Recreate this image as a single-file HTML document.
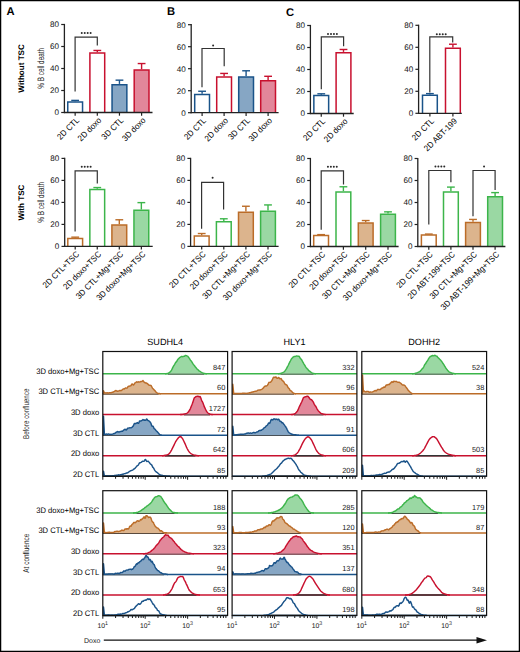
<!DOCTYPE html>
<html><head><meta charset="utf-8"><style>
html,body{margin:0;padding:0;background:#fff;width:520px;height:652px;overflow:hidden}
svg{display:block}
text{font-family:"Liberation Sans", sans-serif;text-rendering:geometricPrecision}
</style></head><body>
<svg width="520" height="652" viewBox="0 0 520 652" font-family='"Liberation Sans", sans-serif'>
<rect x="0" y="0" width="520" height="652" fill="#fff"/>
<text x="6.50" y="15.00" font-size="11.2" text-anchor="start" font-weight="bold" fill="#000" >A</text>
<text x="167.00" y="15.10" font-size="11.2" text-anchor="start" font-weight="bold" fill="#000" >B</text>
<text x="285.90" y="15.90" font-size="11.2" text-anchor="start" font-weight="bold" fill="#000" >C</text>
<text transform="translate(23.6,68.4) rotate(-90)" font-size="8.1" font-weight="bold" text-anchor="middle" fill="#000">Without TSC</text>
<text transform="translate(23.6,202.5) rotate(-90)" font-size="8.1" font-weight="bold" text-anchor="middle" fill="#000">With TSC</text>
<text transform="translate(43.9,68.3) rotate(-90)" font-size="9.3" text-anchor="middle" fill="#222" textLength="40.7" lengthAdjust="spacingAndGlyphs" style="stroke:none">% B cell death</text>
<text transform="translate(43.9,202.4) rotate(-90)" font-size="9.3" text-anchor="middle" fill="#222" textLength="40.7" lengthAdjust="spacingAndGlyphs" style="stroke:none">% B cell death</text>
<line x1="64.40" y1="113.10" x2="64.40" y2="23.90" stroke="#222" stroke-width="1.3" />
<line x1="61.20" y1="112.50" x2="64.40" y2="112.50" stroke="#222" stroke-width="1.2" />
<text x="59.00" y="115.35" font-size="8.1" text-anchor="end" font-weight="normal" fill="#111" >0</text>
<line x1="61.20" y1="90.50" x2="64.40" y2="90.50" stroke="#222" stroke-width="1.2" />
<text x="59.00" y="93.35" font-size="8.1" text-anchor="end" font-weight="normal" fill="#111" >20</text>
<line x1="61.20" y1="68.50" x2="64.40" y2="68.50" stroke="#222" stroke-width="1.2" />
<text x="59.00" y="71.35" font-size="8.1" text-anchor="end" font-weight="normal" fill="#111" >40</text>
<line x1="61.20" y1="46.50" x2="64.40" y2="46.50" stroke="#222" stroke-width="1.2" />
<text x="59.00" y="49.35" font-size="8.1" text-anchor="end" font-weight="normal" fill="#111" >60</text>
<line x1="61.20" y1="24.50" x2="64.40" y2="24.50" stroke="#222" stroke-width="1.2" />
<text x="59.00" y="27.35" font-size="8.1" text-anchor="end" font-weight="normal" fill="#111" >80</text>
<line x1="75.15" y1="101.28" x2="75.15" y2="100.40" stroke="#1a5389" stroke-width="1.4" />
<line x1="71.25" y1="100.40" x2="79.05" y2="100.40" stroke="#1a5389" stroke-width="1.4" />
<path d="M67.75,112.50 V102.03 H82.55 V112.50" fill="none" stroke="#1a5389" stroke-width="1.5"/>
<line x1="97.30" y1="52.22" x2="97.30" y2="50.46" stroke="#c8102e" stroke-width="1.4" />
<line x1="93.40" y1="50.46" x2="101.20" y2="50.46" stroke="#c8102e" stroke-width="1.4" />
<path d="M89.90,112.50 V52.97 H104.70 V112.50" fill="none" stroke="#c8102e" stroke-width="1.5"/>
<line x1="119.45" y1="83.90" x2="119.45" y2="80.16" stroke="#1a5389" stroke-width="1.4" />
<line x1="115.55" y1="80.16" x2="123.35" y2="80.16" stroke="#1a5389" stroke-width="1.4" />
<rect x="112.05" y="84.65" width="14.80" height="27.85" fill="#86a6c4"/>
<path d="M112.05,112.50 V84.65 H126.85 V112.50" fill="none" stroke="#1a5389" stroke-width="1.5"/>
<line x1="141.60" y1="69.27" x2="141.60" y2="63.55" stroke="#c8102e" stroke-width="1.4" />
<line x1="137.70" y1="63.55" x2="145.50" y2="63.55" stroke="#c8102e" stroke-width="1.4" />
<rect x="134.20" y="70.02" width="14.80" height="42.48" fill="#e2879a"/>
<path d="M134.20,112.50 V70.02 H149.00 V112.50" fill="none" stroke="#c8102e" stroke-width="1.5"/>
<line x1="63.80" y1="112.50" x2="152.50" y2="112.50" stroke="#222" stroke-width="1.3" />
<line x1="75.15" y1="112.50" x2="75.15" y2="115.70" stroke="#222" stroke-width="1.2" />
<line x1="97.30" y1="112.50" x2="97.30" y2="115.70" stroke="#222" stroke-width="1.2" />
<line x1="119.45" y1="112.50" x2="119.45" y2="115.70" stroke="#222" stroke-width="1.2" />
<line x1="141.60" y1="112.50" x2="141.60" y2="115.70" stroke="#222" stroke-width="1.2" />
<text transform="translate(79.75,120.90) rotate(-45)" font-size="8.5" text-anchor="end" fill="#000" textLength="27.23" lengthAdjust="spacingAndGlyphs">2D CTL</text>
<text transform="translate(101.90,120.90) rotate(-45)" font-size="8.5" text-anchor="end" fill="#000" textLength="29.44" lengthAdjust="spacingAndGlyphs">2D doxo</text>
<text transform="translate(124.05,120.90) rotate(-45)" font-size="8.5" text-anchor="end" fill="#000" textLength="27.23" lengthAdjust="spacingAndGlyphs">3D CTL</text>
<text transform="translate(146.20,120.90) rotate(-45)" font-size="8.5" text-anchor="end" fill="#000" textLength="29.44" lengthAdjust="spacingAndGlyphs">3D doxo</text>
<polyline points="75.10,91.50 75.10,37.10 97.30,37.10 97.30,45.60" fill="none" stroke="#333" stroke-width="1.2"/>
<circle cx="81.77" cy="32.90" r="1.0" fill="#2a2a2a"/>
<circle cx="84.72" cy="32.90" r="1.0" fill="#2a2a2a"/>
<circle cx="87.67" cy="32.90" r="1.0" fill="#2a2a2a"/>
<circle cx="90.62" cy="32.90" r="1.0" fill="#2a2a2a"/>
<line x1="191.20" y1="113.30" x2="191.20" y2="24.10" stroke="#222" stroke-width="1.3" />
<line x1="188.00" y1="112.70" x2="191.20" y2="112.70" stroke="#222" stroke-width="1.2" />
<text x="185.80" y="115.55" font-size="8.1" text-anchor="end" font-weight="normal" fill="#111" >0</text>
<line x1="188.00" y1="90.70" x2="191.20" y2="90.70" stroke="#222" stroke-width="1.2" />
<text x="185.80" y="93.55" font-size="8.1" text-anchor="end" font-weight="normal" fill="#111" >20</text>
<line x1="188.00" y1="68.70" x2="191.20" y2="68.70" stroke="#222" stroke-width="1.2" />
<text x="185.80" y="71.55" font-size="8.1" text-anchor="end" font-weight="normal" fill="#111" >40</text>
<line x1="188.00" y1="46.70" x2="191.20" y2="46.70" stroke="#222" stroke-width="1.2" />
<text x="185.80" y="49.55" font-size="8.1" text-anchor="end" font-weight="normal" fill="#111" >60</text>
<line x1="188.00" y1="24.70" x2="191.20" y2="24.70" stroke="#222" stroke-width="1.2" />
<text x="185.80" y="27.55" font-size="8.1" text-anchor="end" font-weight="normal" fill="#111" >80</text>
<line x1="202.10" y1="93.78" x2="202.10" y2="91.25" stroke="#1a5389" stroke-width="1.4" />
<line x1="198.20" y1="91.25" x2="206.00" y2="91.25" stroke="#1a5389" stroke-width="1.4" />
<path d="M194.70,112.70 V94.53 H209.50 V112.70" fill="none" stroke="#1a5389" stroke-width="1.5"/>
<line x1="224.10" y1="76.29" x2="224.10" y2="73.43" stroke="#c8102e" stroke-width="1.4" />
<line x1="220.20" y1="73.43" x2="228.00" y2="73.43" stroke="#c8102e" stroke-width="1.4" />
<path d="M216.70,112.70 V77.04 H231.50 V112.70" fill="none" stroke="#c8102e" stroke-width="1.5"/>
<line x1="246.10" y1="76.18" x2="246.10" y2="70.79" stroke="#1a5389" stroke-width="1.4" />
<line x1="242.20" y1="70.79" x2="250.00" y2="70.79" stroke="#1a5389" stroke-width="1.4" />
<rect x="238.70" y="76.93" width="14.80" height="35.77" fill="#86a6c4"/>
<path d="M238.70,112.70 V76.93 H253.50 V112.70" fill="none" stroke="#1a5389" stroke-width="1.5"/>
<line x1="268.10" y1="79.92" x2="268.10" y2="76.29" stroke="#c8102e" stroke-width="1.4" />
<line x1="264.20" y1="76.29" x2="272.00" y2="76.29" stroke="#c8102e" stroke-width="1.4" />
<rect x="260.70" y="80.67" width="14.80" height="32.03" fill="#e2879a"/>
<path d="M260.70,112.70 V80.67 H275.50 V112.70" fill="none" stroke="#c8102e" stroke-width="1.5"/>
<line x1="190.60" y1="112.70" x2="278.60" y2="112.70" stroke="#222" stroke-width="1.3" />
<line x1="202.10" y1="112.70" x2="202.10" y2="115.90" stroke="#222" stroke-width="1.2" />
<line x1="224.10" y1="112.70" x2="224.10" y2="115.90" stroke="#222" stroke-width="1.2" />
<line x1="246.10" y1="112.70" x2="246.10" y2="115.90" stroke="#222" stroke-width="1.2" />
<line x1="268.10" y1="112.70" x2="268.10" y2="115.90" stroke="#222" stroke-width="1.2" />
<text transform="translate(206.70,121.10) rotate(-45)" font-size="8.5" text-anchor="end" fill="#000" textLength="27.23" lengthAdjust="spacingAndGlyphs">2D CTL</text>
<text transform="translate(228.70,121.10) rotate(-45)" font-size="8.5" text-anchor="end" fill="#000" textLength="29.44" lengthAdjust="spacingAndGlyphs">2D doxo</text>
<text transform="translate(250.70,121.10) rotate(-45)" font-size="8.5" text-anchor="end" fill="#000" textLength="27.23" lengthAdjust="spacingAndGlyphs">3D CTL</text>
<text transform="translate(272.70,121.10) rotate(-45)" font-size="8.5" text-anchor="end" fill="#000" textLength="29.44" lengthAdjust="spacingAndGlyphs">3D doxo</text>
<polyline points="202.00,87.20 202.00,48.50 224.20,48.50 224.20,66.20" fill="none" stroke="#333" stroke-width="1.2"/>
<circle cx="213.10" cy="45.50" r="1.0" fill="#2a2a2a"/>
<line x1="310.40" y1="114.10" x2="310.40" y2="24.90" stroke="#222" stroke-width="1.3" />
<line x1="307.20" y1="113.50" x2="310.40" y2="113.50" stroke="#222" stroke-width="1.2" />
<text x="305.00" y="116.35" font-size="8.1" text-anchor="end" font-weight="normal" fill="#111" >0</text>
<line x1="307.20" y1="91.50" x2="310.40" y2="91.50" stroke="#222" stroke-width="1.2" />
<text x="305.00" y="94.35" font-size="8.1" text-anchor="end" font-weight="normal" fill="#111" >20</text>
<line x1="307.20" y1="69.50" x2="310.40" y2="69.50" stroke="#222" stroke-width="1.2" />
<text x="305.00" y="72.35" font-size="8.1" text-anchor="end" font-weight="normal" fill="#111" >40</text>
<line x1="307.20" y1="47.50" x2="310.40" y2="47.50" stroke="#222" stroke-width="1.2" />
<text x="305.00" y="50.35" font-size="8.1" text-anchor="end" font-weight="normal" fill="#111" >60</text>
<line x1="307.20" y1="25.50" x2="310.40" y2="25.50" stroke="#222" stroke-width="1.2" />
<text x="305.00" y="28.35" font-size="8.1" text-anchor="end" font-weight="normal" fill="#111" >80</text>
<line x1="321.25" y1="94.80" x2="321.25" y2="93.81" stroke="#1a5389" stroke-width="1.4" />
<line x1="317.35" y1="93.81" x2="325.15" y2="93.81" stroke="#1a5389" stroke-width="1.4" />
<path d="M313.85,113.50 V95.55 H328.65 V113.50" fill="none" stroke="#1a5389" stroke-width="1.5"/>
<line x1="343.50" y1="51.90" x2="343.50" y2="49.48" stroke="#c8102e" stroke-width="1.4" />
<line x1="339.60" y1="49.48" x2="347.40" y2="49.48" stroke="#c8102e" stroke-width="1.4" />
<path d="M336.10,113.50 V52.65 H350.90 V113.50" fill="none" stroke="#c8102e" stroke-width="1.5"/>
<line x1="309.80" y1="113.50" x2="353.70" y2="113.50" stroke="#222" stroke-width="1.3" />
<line x1="321.25" y1="113.50" x2="321.25" y2="116.70" stroke="#222" stroke-width="1.2" />
<line x1="343.50" y1="113.50" x2="343.50" y2="116.70" stroke="#222" stroke-width="1.2" />
<text transform="translate(325.85,121.90) rotate(-45)" font-size="8.5" text-anchor="end" fill="#000" textLength="27.23" lengthAdjust="spacingAndGlyphs">2D CTL</text>
<text transform="translate(348.10,121.90) rotate(-45)" font-size="8.5" text-anchor="end" fill="#000" textLength="29.44" lengthAdjust="spacingAndGlyphs">2D doxo</text>
<polyline points="321.30,89.30 321.30,36.80 343.60,36.80 343.60,46.20" fill="none" stroke="#333" stroke-width="1.2"/>
<circle cx="328.03" cy="34.10" r="1.0" fill="#2a2a2a"/>
<circle cx="330.98" cy="34.10" r="1.0" fill="#2a2a2a"/>
<circle cx="333.93" cy="34.10" r="1.0" fill="#2a2a2a"/>
<circle cx="336.88" cy="34.10" r="1.0" fill="#2a2a2a"/>
<line x1="418.60" y1="113.90" x2="418.60" y2="24.70" stroke="#222" stroke-width="1.3" />
<line x1="415.40" y1="113.30" x2="418.60" y2="113.30" stroke="#222" stroke-width="1.2" />
<text x="413.20" y="116.15" font-size="8.1" text-anchor="end" font-weight="normal" fill="#111" >0</text>
<line x1="415.40" y1="91.30" x2="418.60" y2="91.30" stroke="#222" stroke-width="1.2" />
<text x="413.20" y="94.15" font-size="8.1" text-anchor="end" font-weight="normal" fill="#111" >20</text>
<line x1="415.40" y1="69.30" x2="418.60" y2="69.30" stroke="#222" stroke-width="1.2" />
<text x="413.20" y="72.15" font-size="8.1" text-anchor="end" font-weight="normal" fill="#111" >40</text>
<line x1="415.40" y1="47.30" x2="418.60" y2="47.30" stroke="#222" stroke-width="1.2" />
<text x="413.20" y="50.15" font-size="8.1" text-anchor="end" font-weight="normal" fill="#111" >60</text>
<line x1="415.40" y1="25.30" x2="418.60" y2="25.30" stroke="#222" stroke-width="1.2" />
<text x="413.20" y="28.15" font-size="8.1" text-anchor="end" font-weight="normal" fill="#111" >80</text>
<line x1="429.90" y1="94.60" x2="429.90" y2="93.61" stroke="#1a5389" stroke-width="1.4" />
<line x1="426.00" y1="93.61" x2="433.80" y2="93.61" stroke="#1a5389" stroke-width="1.4" />
<path d="M422.50,113.30 V95.35 H437.30 V113.30" fill="none" stroke="#1a5389" stroke-width="1.5"/>
<line x1="452.90" y1="47.52" x2="452.90" y2="44.22" stroke="#c8102e" stroke-width="1.4" />
<line x1="449.00" y1="44.22" x2="456.80" y2="44.22" stroke="#c8102e" stroke-width="1.4" />
<path d="M445.50,113.30 V48.27 H460.30 V113.30" fill="none" stroke="#c8102e" stroke-width="1.5"/>
<line x1="418.00" y1="113.30" x2="461.80" y2="113.30" stroke="#222" stroke-width="1.3" />
<line x1="429.90" y1="113.30" x2="429.90" y2="116.50" stroke="#222" stroke-width="1.2" />
<line x1="452.90" y1="113.30" x2="452.90" y2="116.50" stroke="#222" stroke-width="1.2" />
<text transform="translate(434.50,121.70) rotate(-45)" font-size="8.5" text-anchor="end" fill="#000" textLength="27.23" lengthAdjust="spacingAndGlyphs">2D CTL</text>
<text transform="translate(457.50,121.70) rotate(-45)" font-size="8.5" text-anchor="end" fill="#000" textLength="42.62" lengthAdjust="spacingAndGlyphs">2D ABT-199</text>
<polyline points="429.80,92.50 429.80,36.80 452.70,36.80 452.70,42.50" fill="none" stroke="#333" stroke-width="1.2"/>
<circle cx="436.82" cy="34.20" r="1.0" fill="#2a2a2a"/>
<circle cx="439.77" cy="34.20" r="1.0" fill="#2a2a2a"/>
<circle cx="442.73" cy="34.20" r="1.0" fill="#2a2a2a"/>
<circle cx="445.68" cy="34.20" r="1.0" fill="#2a2a2a"/>
<line x1="64.70" y1="247.00" x2="64.70" y2="157.80" stroke="#222" stroke-width="1.3" />
<line x1="61.50" y1="246.40" x2="64.70" y2="246.40" stroke="#222" stroke-width="1.2" />
<text x="59.30" y="249.25" font-size="8.1" text-anchor="end" font-weight="normal" fill="#111" >0</text>
<line x1="61.50" y1="224.40" x2="64.70" y2="224.40" stroke="#222" stroke-width="1.2" />
<text x="59.30" y="227.25" font-size="8.1" text-anchor="end" font-weight="normal" fill="#111" >20</text>
<line x1="61.50" y1="202.40" x2="64.70" y2="202.40" stroke="#222" stroke-width="1.2" />
<text x="59.30" y="205.25" font-size="8.1" text-anchor="end" font-weight="normal" fill="#111" >40</text>
<line x1="61.50" y1="180.40" x2="64.70" y2="180.40" stroke="#222" stroke-width="1.2" />
<text x="59.30" y="183.25" font-size="8.1" text-anchor="end" font-weight="normal" fill="#111" >60</text>
<line x1="61.50" y1="158.40" x2="64.70" y2="158.40" stroke="#222" stroke-width="1.2" />
<text x="59.30" y="161.25" font-size="8.1" text-anchor="end" font-weight="normal" fill="#111" >80</text>
<line x1="75.20" y1="237.82" x2="75.20" y2="237.16" stroke="#bb6c28" stroke-width="1.4" />
<line x1="71.30" y1="237.16" x2="79.10" y2="237.16" stroke="#bb6c28" stroke-width="1.4" />
<path d="M67.80,246.40 V238.57 H82.60 V246.40" fill="none" stroke="#bb6c28" stroke-width="1.5"/>
<line x1="97.25" y1="188.87" x2="97.25" y2="187.55" stroke="#3cb54a" stroke-width="1.4" />
<line x1="93.35" y1="187.55" x2="101.15" y2="187.55" stroke="#3cb54a" stroke-width="1.4" />
<path d="M89.85,246.40 V189.62 H104.65 V246.40" fill="none" stroke="#3cb54a" stroke-width="1.5"/>
<line x1="119.30" y1="224.18" x2="119.30" y2="219.78" stroke="#bb6c28" stroke-width="1.4" />
<line x1="115.40" y1="219.78" x2="123.20" y2="219.78" stroke="#bb6c28" stroke-width="1.4" />
<rect x="111.90" y="224.93" width="14.80" height="21.47" fill="#dcb48d"/>
<path d="M111.90,246.40 V224.93 H126.70 V246.40" fill="none" stroke="#bb6c28" stroke-width="1.5"/>
<line x1="141.35" y1="209.55" x2="141.35" y2="202.62" stroke="#3cb54a" stroke-width="1.4" />
<line x1="137.45" y1="202.62" x2="145.25" y2="202.62" stroke="#3cb54a" stroke-width="1.4" />
<rect x="133.95" y="210.30" width="14.80" height="36.10" fill="#9ad8a3"/>
<path d="M133.95,246.40 V210.30 H148.75 V246.40" fill="none" stroke="#3cb54a" stroke-width="1.5"/>
<line x1="64.10" y1="246.40" x2="152.70" y2="246.40" stroke="#222" stroke-width="1.3" />
<line x1="75.20" y1="246.40" x2="75.20" y2="249.60" stroke="#222" stroke-width="1.2" />
<line x1="97.25" y1="246.40" x2="97.25" y2="249.60" stroke="#222" stroke-width="1.2" />
<line x1="119.30" y1="246.40" x2="119.30" y2="249.60" stroke="#222" stroke-width="1.2" />
<line x1="141.35" y1="246.40" x2="141.35" y2="249.60" stroke="#222" stroke-width="1.2" />
<text transform="translate(79.80,254.80) rotate(-45)" font-size="8.5" text-anchor="end" fill="#000" textLength="47.66" lengthAdjust="spacingAndGlyphs">2D CTL+TSC</text>
<text transform="translate(101.85,254.80) rotate(-45)" font-size="8.5" text-anchor="end" fill="#000" textLength="49.87" lengthAdjust="spacingAndGlyphs">2D doxo+TSC</text>
<text transform="translate(123.90,254.80) rotate(-45)" font-size="8.5" text-anchor="end" fill="#000" textLength="63.26" lengthAdjust="spacingAndGlyphs">3D CTL+Mg+TSC</text>
<text transform="translate(145.95,254.80) rotate(-45)" font-size="8.5" text-anchor="end" fill="#000" textLength="65.47" lengthAdjust="spacingAndGlyphs">3D doxo+Mg+TSC</text>
<polyline points="75.10,231.50 75.10,170.80 97.30,170.80 97.30,183.60" fill="none" stroke="#333" stroke-width="1.2"/>
<circle cx="81.77" cy="166.70" r="1.0" fill="#2a2a2a"/>
<circle cx="84.72" cy="166.70" r="1.0" fill="#2a2a2a"/>
<circle cx="87.67" cy="166.70" r="1.0" fill="#2a2a2a"/>
<circle cx="90.62" cy="166.70" r="1.0" fill="#2a2a2a"/>
<line x1="190.60" y1="247.00" x2="190.60" y2="157.80" stroke="#222" stroke-width="1.3" />
<line x1="187.40" y1="246.40" x2="190.60" y2="246.40" stroke="#222" stroke-width="1.2" />
<text x="185.20" y="249.25" font-size="8.1" text-anchor="end" font-weight="normal" fill="#111" >0</text>
<line x1="187.40" y1="224.40" x2="190.60" y2="224.40" stroke="#222" stroke-width="1.2" />
<text x="185.20" y="227.25" font-size="8.1" text-anchor="end" font-weight="normal" fill="#111" >20</text>
<line x1="187.40" y1="202.40" x2="190.60" y2="202.40" stroke="#222" stroke-width="1.2" />
<text x="185.20" y="205.25" font-size="8.1" text-anchor="end" font-weight="normal" fill="#111" >40</text>
<line x1="187.40" y1="180.40" x2="190.60" y2="180.40" stroke="#222" stroke-width="1.2" />
<text x="185.20" y="183.25" font-size="8.1" text-anchor="end" font-weight="normal" fill="#111" >60</text>
<line x1="187.40" y1="158.40" x2="190.60" y2="158.40" stroke="#222" stroke-width="1.2" />
<text x="185.20" y="161.25" font-size="8.1" text-anchor="end" font-weight="normal" fill="#111" >80</text>
<line x1="201.70" y1="235.18" x2="201.70" y2="233.53" stroke="#bb6c28" stroke-width="1.4" />
<line x1="197.80" y1="233.53" x2="205.60" y2="233.53" stroke="#bb6c28" stroke-width="1.4" />
<path d="M194.30,246.40 V235.93 H209.10 V246.40" fill="none" stroke="#bb6c28" stroke-width="1.5"/>
<line x1="223.80" y1="221.10" x2="223.80" y2="218.79" stroke="#3cb54a" stroke-width="1.4" />
<line x1="219.90" y1="218.79" x2="227.70" y2="218.79" stroke="#3cb54a" stroke-width="1.4" />
<path d="M216.40,246.40 V221.85 H231.20 V246.40" fill="none" stroke="#3cb54a" stroke-width="1.5"/>
<line x1="245.90" y1="211.53" x2="245.90" y2="206.25" stroke="#bb6c28" stroke-width="1.4" />
<line x1="242.00" y1="206.25" x2="249.80" y2="206.25" stroke="#bb6c28" stroke-width="1.4" />
<rect x="238.50" y="212.28" width="14.80" height="34.12" fill="#dcb48d"/>
<path d="M238.50,246.40 V212.28 H253.30 V246.40" fill="none" stroke="#bb6c28" stroke-width="1.5"/>
<line x1="268.00" y1="210.43" x2="268.00" y2="204.93" stroke="#3cb54a" stroke-width="1.4" />
<line x1="264.10" y1="204.93" x2="271.90" y2="204.93" stroke="#3cb54a" stroke-width="1.4" />
<rect x="260.60" y="211.18" width="14.80" height="35.22" fill="#9ad8a3"/>
<path d="M260.60,246.40 V211.18 H275.40 V246.40" fill="none" stroke="#3cb54a" stroke-width="1.5"/>
<line x1="190.00" y1="246.40" x2="278.60" y2="246.40" stroke="#222" stroke-width="1.3" />
<line x1="201.70" y1="246.40" x2="201.70" y2="249.60" stroke="#222" stroke-width="1.2" />
<line x1="223.80" y1="246.40" x2="223.80" y2="249.60" stroke="#222" stroke-width="1.2" />
<line x1="245.90" y1="246.40" x2="245.90" y2="249.60" stroke="#222" stroke-width="1.2" />
<line x1="268.00" y1="246.40" x2="268.00" y2="249.60" stroke="#222" stroke-width="1.2" />
<text transform="translate(206.30,254.80) rotate(-45)" font-size="8.5" text-anchor="end" fill="#000" textLength="47.66" lengthAdjust="spacingAndGlyphs">2D CTL+TSC</text>
<text transform="translate(228.40,254.80) rotate(-45)" font-size="8.5" text-anchor="end" fill="#000" textLength="49.87" lengthAdjust="spacingAndGlyphs">2D doxo+TSC</text>
<text transform="translate(250.50,254.80) rotate(-45)" font-size="8.5" text-anchor="end" fill="#000" textLength="63.26" lengthAdjust="spacingAndGlyphs">3D CTL+Mg+TSC</text>
<text transform="translate(272.60,254.80) rotate(-45)" font-size="8.5" text-anchor="end" fill="#000" textLength="65.47" lengthAdjust="spacingAndGlyphs">3D doxo+Mg+TSC</text>
<polyline points="201.60,228.80 201.60,182.40 223.60,182.40 223.60,209.50" fill="none" stroke="#333" stroke-width="1.2"/>
<circle cx="212.60" cy="177.80" r="1.0" fill="#2a2a2a"/>
<line x1="310.40" y1="247.10" x2="310.40" y2="157.90" stroke="#222" stroke-width="1.3" />
<line x1="307.20" y1="246.50" x2="310.40" y2="246.50" stroke="#222" stroke-width="1.2" />
<text x="305.00" y="249.35" font-size="8.1" text-anchor="end" font-weight="normal" fill="#111" >0</text>
<line x1="307.20" y1="224.50" x2="310.40" y2="224.50" stroke="#222" stroke-width="1.2" />
<text x="305.00" y="227.35" font-size="8.1" text-anchor="end" font-weight="normal" fill="#111" >20</text>
<line x1="307.20" y1="202.50" x2="310.40" y2="202.50" stroke="#222" stroke-width="1.2" />
<text x="305.00" y="205.35" font-size="8.1" text-anchor="end" font-weight="normal" fill="#111" >40</text>
<line x1="307.20" y1="180.50" x2="310.40" y2="180.50" stroke="#222" stroke-width="1.2" />
<text x="305.00" y="183.35" font-size="8.1" text-anchor="end" font-weight="normal" fill="#111" >60</text>
<line x1="307.20" y1="158.50" x2="310.40" y2="158.50" stroke="#222" stroke-width="1.2" />
<text x="305.00" y="161.35" font-size="8.1" text-anchor="end" font-weight="normal" fill="#111" >80</text>
<line x1="321.10" y1="234.84" x2="321.10" y2="234.62" stroke="#bb6c28" stroke-width="1.4" />
<line x1="317.20" y1="234.62" x2="325.00" y2="234.62" stroke="#bb6c28" stroke-width="1.4" />
<path d="M313.70,246.50 V235.59 H328.50 V246.50" fill="none" stroke="#bb6c28" stroke-width="1.5"/>
<line x1="343.40" y1="191.17" x2="343.40" y2="186.77" stroke="#3cb54a" stroke-width="1.4" />
<line x1="339.50" y1="186.77" x2="347.30" y2="186.77" stroke="#3cb54a" stroke-width="1.4" />
<path d="M336.00,246.50 V191.92 H350.80 V246.50" fill="none" stroke="#3cb54a" stroke-width="1.5"/>
<line x1="365.70" y1="222.30" x2="365.70" y2="220.54" stroke="#bb6c28" stroke-width="1.4" />
<line x1="361.80" y1="220.54" x2="369.60" y2="220.54" stroke="#bb6c28" stroke-width="1.4" />
<rect x="358.30" y="223.05" width="14.80" height="23.45" fill="#dcb48d"/>
<path d="M358.30,246.50 V223.05 H373.10 V246.50" fill="none" stroke="#bb6c28" stroke-width="1.5"/>
<line x1="388.00" y1="213.50" x2="388.00" y2="211.85" stroke="#3cb54a" stroke-width="1.4" />
<line x1="384.10" y1="211.85" x2="391.90" y2="211.85" stroke="#3cb54a" stroke-width="1.4" />
<rect x="380.60" y="214.25" width="14.80" height="32.25" fill="#9ad8a3"/>
<path d="M380.60,246.50 V214.25 H395.40 V246.50" fill="none" stroke="#3cb54a" stroke-width="1.5"/>
<line x1="309.80" y1="246.50" x2="398.60" y2="246.50" stroke="#222" stroke-width="1.3" />
<line x1="321.10" y1="246.50" x2="321.10" y2="249.70" stroke="#222" stroke-width="1.2" />
<line x1="343.40" y1="246.50" x2="343.40" y2="249.70" stroke="#222" stroke-width="1.2" />
<line x1="365.70" y1="246.50" x2="365.70" y2="249.70" stroke="#222" stroke-width="1.2" />
<line x1="388.00" y1="246.50" x2="388.00" y2="249.70" stroke="#222" stroke-width="1.2" />
<text transform="translate(325.70,254.90) rotate(-45)" font-size="8.5" text-anchor="end" fill="#000" textLength="47.66" lengthAdjust="spacingAndGlyphs">2D CTL+TSC</text>
<text transform="translate(348.00,254.90) rotate(-45)" font-size="8.5" text-anchor="end" fill="#000" textLength="49.87" lengthAdjust="spacingAndGlyphs">2D doxo+TSC</text>
<text transform="translate(370.30,254.90) rotate(-45)" font-size="8.5" text-anchor="end" fill="#000" textLength="63.26" lengthAdjust="spacingAndGlyphs">3D CTL+Mg+TSC</text>
<text transform="translate(392.60,254.90) rotate(-45)" font-size="8.5" text-anchor="end" fill="#000" textLength="65.47" lengthAdjust="spacingAndGlyphs">3D doxo+Mg+TSC</text>
<polyline points="321.20,229.80 321.20,170.80 343.50,170.80 343.50,184.50" fill="none" stroke="#333" stroke-width="1.2"/>
<circle cx="327.93" cy="166.70" r="1.0" fill="#2a2a2a"/>
<circle cx="330.88" cy="166.70" r="1.0" fill="#2a2a2a"/>
<circle cx="333.83" cy="166.70" r="1.0" fill="#2a2a2a"/>
<circle cx="336.78" cy="166.70" r="1.0" fill="#2a2a2a"/>
<line x1="417.80" y1="247.10" x2="417.80" y2="157.90" stroke="#222" stroke-width="1.3" />
<line x1="414.60" y1="246.50" x2="417.80" y2="246.50" stroke="#222" stroke-width="1.2" />
<text x="412.40" y="249.35" font-size="8.1" text-anchor="end" font-weight="normal" fill="#111" >0</text>
<line x1="414.60" y1="224.50" x2="417.80" y2="224.50" stroke="#222" stroke-width="1.2" />
<text x="412.40" y="227.35" font-size="8.1" text-anchor="end" font-weight="normal" fill="#111" >20</text>
<line x1="414.60" y1="202.50" x2="417.80" y2="202.50" stroke="#222" stroke-width="1.2" />
<text x="412.40" y="205.35" font-size="8.1" text-anchor="end" font-weight="normal" fill="#111" >40</text>
<line x1="414.60" y1="180.50" x2="417.80" y2="180.50" stroke="#222" stroke-width="1.2" />
<text x="412.40" y="183.35" font-size="8.1" text-anchor="end" font-weight="normal" fill="#111" >60</text>
<line x1="414.60" y1="158.50" x2="417.80" y2="158.50" stroke="#222" stroke-width="1.2" />
<text x="412.40" y="161.35" font-size="8.1" text-anchor="end" font-weight="normal" fill="#111" >80</text>
<line x1="428.80" y1="234.29" x2="428.80" y2="234.07" stroke="#bb6c28" stroke-width="1.4" />
<line x1="424.90" y1="234.07" x2="432.70" y2="234.07" stroke="#bb6c28" stroke-width="1.4" />
<path d="M421.40,246.50 V235.04 H436.20 V246.50" fill="none" stroke="#bb6c28" stroke-width="1.5"/>
<line x1="450.90" y1="191.17" x2="450.90" y2="187.10" stroke="#3cb54a" stroke-width="1.4" />
<line x1="447.00" y1="187.10" x2="454.80" y2="187.10" stroke="#3cb54a" stroke-width="1.4" />
<path d="M443.50,246.50 V191.92 H458.30 V246.50" fill="none" stroke="#3cb54a" stroke-width="1.5"/>
<line x1="473.00" y1="221.64" x2="473.00" y2="219.44" stroke="#bb6c28" stroke-width="1.4" />
<line x1="469.10" y1="219.44" x2="476.90" y2="219.44" stroke="#bb6c28" stroke-width="1.4" />
<rect x="465.60" y="222.39" width="14.80" height="24.11" fill="#dcb48d"/>
<path d="M465.60,246.50 V222.39 H480.40 V246.50" fill="none" stroke="#bb6c28" stroke-width="1.5"/>
<line x1="495.10" y1="195.90" x2="495.10" y2="192.60" stroke="#3cb54a" stroke-width="1.4" />
<line x1="491.20" y1="192.60" x2="499.00" y2="192.60" stroke="#3cb54a" stroke-width="1.4" />
<rect x="487.70" y="196.65" width="14.80" height="49.85" fill="#9ad8a3"/>
<path d="M487.70,246.50 V196.65 H502.50 V246.50" fill="none" stroke="#3cb54a" stroke-width="1.5"/>
<line x1="417.20" y1="246.50" x2="505.40" y2="246.50" stroke="#222" stroke-width="1.3" />
<line x1="428.80" y1="246.50" x2="428.80" y2="249.70" stroke="#222" stroke-width="1.2" />
<line x1="450.90" y1="246.50" x2="450.90" y2="249.70" stroke="#222" stroke-width="1.2" />
<line x1="473.00" y1="246.50" x2="473.00" y2="249.70" stroke="#222" stroke-width="1.2" />
<line x1="495.10" y1="246.50" x2="495.10" y2="249.70" stroke="#222" stroke-width="1.2" />
<text transform="translate(433.40,254.90) rotate(-45)" font-size="8.5" text-anchor="end" fill="#000" textLength="47.66" lengthAdjust="spacingAndGlyphs">2D CTL+TSC</text>
<text transform="translate(455.50,254.90) rotate(-45)" font-size="8.5" text-anchor="end" fill="#000" textLength="63.05" lengthAdjust="spacingAndGlyphs">2D ABT-199+TSC</text>
<text transform="translate(477.60,254.90) rotate(-45)" font-size="8.5" text-anchor="end" fill="#000" textLength="63.26" lengthAdjust="spacingAndGlyphs">3D CTL+Mg+TSC</text>
<text transform="translate(499.70,254.90) rotate(-45)" font-size="8.5" text-anchor="end" fill="#000" textLength="78.65" lengthAdjust="spacingAndGlyphs">3D ABT-199+Mg+TSC</text>
<polyline points="428.80,224.50 428.80,170.50 450.90,170.50 450.90,182.30" fill="none" stroke="#333" stroke-width="1.2"/>
<circle cx="435.43" cy="166.50" r="1.0" fill="#2a2a2a"/>
<circle cx="438.38" cy="166.50" r="1.0" fill="#2a2a2a"/>
<circle cx="441.33" cy="166.50" r="1.0" fill="#2a2a2a"/>
<circle cx="444.28" cy="166.50" r="1.0" fill="#2a2a2a"/>
<polyline points="473.00,216.20 473.00,170.50 495.10,170.50 495.10,190.00" fill="none" stroke="#333" stroke-width="1.2"/>
<circle cx="484.05" cy="166.50" r="1.0" fill="#2a2a2a"/>
<line x1="102.80" y1="373.80" x2="227.60" y2="373.80" stroke="#3cb54a" stroke-width="1.5" />
<line x1="168.00" y1="373.80" x2="204.00" y2="373.80" stroke="#333" stroke-width="1.5" />
<polyline points="165.00,373.80 165.00,373.80 165.50,373.79 166.00,373.75 166.50,373.66 167.00,373.57 167.50,373.49 168.00,373.37 168.50,373.20 169.00,372.78 169.50,372.36 170.00,371.96 170.50,371.59 171.00,370.90 171.50,370.09 172.00,369.17 172.50,368.10 173.00,367.06 173.50,366.10 174.00,365.32 174.50,364.53 175.00,363.67 175.50,362.76 176.00,362.11 176.50,361.64 177.00,360.96 177.50,359.93 178.00,359.17 178.50,358.67 179.00,358.17 179.50,357.68 180.00,357.38 180.50,357.12 181.00,356.67 181.50,356.47 182.00,356.38 182.50,356.70 183.00,356.59 183.50,356.48 184.00,356.22 184.50,356.18 185.00,355.69 185.50,355.36 186.00,355.55 186.50,355.72 187.00,355.92 187.50,356.09 188.00,356.56 188.50,357.23 189.00,357.92 189.50,358.61 190.00,359.46 190.50,360.23 191.00,360.77 191.50,361.38 192.00,362.26 192.50,363.00 193.00,363.90 193.50,364.54 194.00,365.11 194.50,365.71 195.00,366.49 195.50,367.19 196.00,367.59 196.50,368.28 197.00,368.90 197.50,369.42 198.00,369.67 198.50,370.23 199.00,370.81 199.50,371.20 200.00,371.43 200.50,371.67 201.00,372.02 201.50,372.32 202.00,372.67 202.50,372.85 203.00,373.06 203.50,373.24 204.00,373.46 204.50,373.54 205.00,373.58 205.50,373.64 206.00,373.72 206.50,373.77 207.00,373.80 207.00,373.80" fill="#9ad8a3" stroke="#3cb54a" stroke-width="1.45" stroke-linejoin="round"/>
<text x="225.30" y="370.30" font-size="7.4" text-anchor="end" font-weight="normal" fill="#222" >847</text>
<line x1="102.80" y1="393.80" x2="227.60" y2="393.80" stroke="#bb6c28" stroke-width="1.5" />
<line x1="102.80" y1="393.80" x2="158.50" y2="393.80" stroke="#333" stroke-width="1.5" />
<polyline points="103.50,393.80 103.50,390.80 104.40,392.94 103.50,392.94 104.00,393.01 104.50,392.84 105.00,392.84 105.50,392.90 106.00,393.01 106.50,392.87 107.00,392.75 107.50,392.82 108.00,393.03 108.50,393.09 109.00,392.84 109.50,392.61 110.00,392.60 110.50,392.71 111.00,392.68 111.50,392.58 112.00,392.34 112.50,392.23 113.00,392.06 113.50,391.95 114.00,391.62 114.50,391.42 115.00,390.97 115.50,390.63 116.00,390.40 116.50,390.92 117.00,391.25 117.50,391.39 118.00,390.96 118.50,391.10 119.00,390.90 119.50,390.56 120.00,390.31 120.50,390.63 121.00,390.78 121.50,390.43 122.00,389.99 122.50,389.34 123.00,389.13 123.50,389.05 124.00,389.13 124.50,388.62 125.00,388.31 125.50,387.90 126.00,388.11 126.50,388.15 127.00,388.20 127.50,387.38 128.00,386.69 128.50,386.29 129.00,386.45 129.50,386.19 130.00,385.92 130.50,385.86 131.00,385.63 131.50,384.51 132.00,383.94 132.50,384.19 133.00,384.89 133.50,384.99 134.00,384.49 134.50,383.53 135.00,382.86 135.50,382.60 136.00,382.29 136.50,381.81 137.00,381.99 137.50,382.18 138.00,382.08 138.50,381.81 139.00,381.91 139.50,382.14 140.00,382.05 140.50,381.62 141.00,381.39 141.50,381.45 142.00,381.44 142.50,381.05 143.00,380.53 143.50,381.36 144.00,381.92 144.50,382.62 145.00,382.56 145.50,382.96 146.00,382.91 146.50,383.00 147.00,383.47 147.50,383.69 148.00,384.15 148.50,384.64 149.00,385.10 149.50,385.38 150.00,385.28 150.50,385.43 151.00,385.38 151.50,386.29 152.00,387.28 152.50,388.25 153.00,388.62 153.50,389.17 154.00,389.75 154.50,390.38 155.00,390.72 155.50,391.42 156.00,391.94 156.50,392.49 157.00,392.83 157.50,393.19 158.00,393.39 158.50,393.47 159.00,393.49 159.50,393.54 160.00,393.64 160.50,393.71 161.00,393.80 161.00,393.80" fill="#dcb48d" stroke="#bb6c28" stroke-width="1.45" stroke-linejoin="round"/>
<text x="225.30" y="390.30" font-size="7.4" text-anchor="end" font-weight="normal" fill="#222" >60</text>
<line x1="102.80" y1="414.60" x2="227.60" y2="414.60" stroke="#c8102e" stroke-width="1.5" />
<line x1="184.00" y1="414.60" x2="210.00" y2="414.60" stroke="#333" stroke-width="1.5" />
<polyline points="180.00,414.60 180.00,414.60 180.50,414.58 181.00,414.56 181.50,414.52 182.00,414.47 182.50,414.39 183.00,414.32 183.50,414.18 184.00,414.09 184.50,414.01 185.00,413.90 185.50,413.75 186.00,413.56 186.50,413.36 187.00,413.11 187.50,412.77 188.00,412.31 188.50,411.69 189.00,411.06 189.50,410.25 190.00,409.42 190.50,408.27 191.00,406.95 191.50,405.70 192.00,404.52 192.50,403.18 193.00,401.73 193.50,400.21 194.00,398.61 194.50,397.60 195.00,397.32 195.50,396.90 196.00,396.43 196.50,396.48 197.00,396.43 197.50,396.26 198.00,396.25 198.50,396.54 199.00,396.66 199.50,396.58 200.00,396.48 200.50,397.24 201.00,398.46 201.50,399.91 202.00,401.11 202.50,401.93 203.00,403.04 203.50,404.38 204.00,405.88 204.50,407.15 205.00,408.16 205.50,409.23 206.00,410.25 206.50,411.25 207.00,411.90 207.50,412.52 208.00,412.96 208.50,413.37 209.00,413.70 209.50,414.03 210.00,414.20 210.50,414.30 211.00,414.37 211.50,414.44 212.00,414.51 212.50,414.57 213.00,414.60 213.00,414.60" fill="#e2879a" stroke="#c8102e" stroke-width="1.45" stroke-linejoin="round"/>
<text x="225.30" y="411.10" font-size="7.4" text-anchor="end" font-weight="normal" fill="#222" >1727</text>
<line x1="102.80" y1="435.30" x2="227.60" y2="435.30" stroke="#1a5389" stroke-width="1.5" />
<line x1="102.80" y1="435.30" x2="160.50" y2="435.30" stroke="#333" stroke-width="1.5" />
<polyline points="103.50,435.30 103.50,416.30 104.40,434.22 104.00,434.22 104.50,434.15 105.00,434.17 105.50,434.20 106.00,434.11 106.50,434.07 107.00,434.19 107.50,434.26 108.00,434.08 108.50,434.04 109.00,434.17 109.50,434.34 110.00,434.22 110.50,434.33 111.00,434.37 111.50,434.31 112.00,434.20 112.50,434.10 113.00,433.92 113.50,433.69 114.00,433.58 114.50,433.51 115.00,433.31 115.50,432.78 116.00,432.36 116.50,431.95 117.00,431.92 117.50,431.56 118.00,431.63 118.50,431.89 119.00,432.15 119.50,431.90 120.00,431.55 120.50,431.63 121.00,431.49 121.50,431.17 122.00,431.16 122.50,431.29 123.00,430.80 123.50,430.32 124.00,429.92 124.50,429.52 125.00,429.19 125.50,429.52 126.00,429.99 126.50,429.81 127.00,429.07 127.50,428.43 128.00,428.10 128.50,428.14 129.00,427.95 129.50,427.88 130.00,427.65 130.50,427.77 131.00,427.86 131.50,427.65 132.00,427.24 132.50,426.86 133.00,426.26 133.50,425.53 134.00,424.19 134.50,423.45 135.00,423.38 135.50,423.75 136.00,423.39 136.50,423.07 137.00,422.73 137.50,422.57 138.00,423.24 138.50,423.32 139.00,422.60 139.50,421.02 140.00,421.00 140.50,421.17 141.00,420.98 141.50,420.64 142.00,420.32 142.50,420.12 143.00,419.54 143.50,419.79 144.00,420.26 144.50,420.00 145.00,420.16 145.50,420.17 146.00,420.10 146.50,419.05 147.00,419.17 147.50,419.97 148.00,420.58 148.50,420.62 149.00,420.86 149.50,421.63 150.00,421.79 150.50,422.57 151.00,423.46 151.50,425.16 152.00,426.11 152.50,426.19 153.00,426.20 153.50,427.06 154.00,428.42 154.50,428.84 155.00,429.16 155.50,429.82 156.00,430.53 156.50,431.03 157.00,431.35 157.50,432.14 158.00,432.58 158.50,433.13 159.00,433.76 159.50,434.50 160.00,434.86 160.50,434.99 161.00,435.13 161.50,435.23 162.00,435.30 162.00,435.30" fill="#86a6c4" stroke="#1a5389" stroke-width="1.45" stroke-linejoin="round"/>
<text x="225.30" y="431.80" font-size="7.4" text-anchor="end" font-weight="normal" fill="#222" >72</text>
<line x1="102.80" y1="455.80" x2="227.60" y2="455.80" stroke="#c8102e" stroke-width="1.5" />
<line x1="165.00" y1="455.80" x2="195.50" y2="455.80" stroke="#333" stroke-width="1.5" />
<polyline points="162.00,455.80 162.00,455.80 162.50,455.74 163.00,455.68 163.50,455.60 164.00,455.51 164.50,455.42 165.00,455.32 165.50,455.22 166.00,455.11 166.50,455.00 167.00,454.87 167.50,454.72 168.00,454.53 168.50,454.30 169.00,453.91 169.50,453.29 170.00,452.56 170.50,451.80 171.00,451.00 171.50,450.12 172.00,449.17 172.50,448.18 173.00,447.19 173.50,446.20 174.00,445.13 174.50,444.04 175.00,442.97 175.50,441.99 176.00,441.14 176.50,440.37 177.00,439.63 177.50,438.94 178.00,438.32 178.50,437.77 179.00,437.30 179.50,436.86 180.00,436.54 180.50,436.56 181.00,436.88 181.50,437.37 182.00,437.91 182.50,438.60 183.00,439.48 183.50,440.48 184.00,441.54 184.50,442.60 185.00,443.65 185.50,444.81 186.00,446.00 186.50,447.16 187.00,448.23 187.50,449.16 188.00,450.03 188.50,450.87 189.00,451.64 189.50,452.29 190.00,452.80 190.50,453.21 191.00,453.58 191.50,453.91 192.00,454.20 192.50,454.45 193.00,454.66 193.50,454.83 194.00,454.97 194.50,455.09 195.00,455.20 195.50,455.30 196.00,455.39 196.50,455.47 197.00,455.55 197.50,455.62 198.00,455.69 198.50,455.75 199.00,455.80 199.00,455.80" fill="none" stroke="#c8102e" stroke-width="1.45" stroke-linejoin="round"/>
<text x="225.30" y="452.30" font-size="7.4" text-anchor="end" font-weight="normal" fill="#222" >642</text>
<line x1="102.80" y1="476.25" x2="227.60" y2="476.25" stroke="#1a5389" stroke-width="1.5" />
<line x1="102.80" y1="476.25" x2="164.50" y2="476.25" stroke="#333" stroke-width="1.5" />
<polyline points="103.50,476.25 103.50,471.25 104.40,475.88 104.00,475.88 104.50,475.84 105.00,475.87 105.50,475.99 106.00,476.03 106.50,475.97 107.00,475.90 107.50,475.90 108.00,475.94 108.50,475.97 109.00,476.01 109.50,475.96 110.00,475.92 110.50,475.91 111.00,476.00 111.50,476.00 112.00,475.89 112.50,475.76 113.00,475.75 113.50,475.72 114.00,475.59 114.50,475.45 115.00,475.42 115.50,475.36 116.00,475.30 116.50,475.23 117.00,475.26 117.50,475.16 118.00,475.07 118.50,474.83 119.00,474.94 119.50,474.93 120.00,474.86 120.50,474.65 121.00,474.61 121.50,474.52 122.00,474.34 122.50,474.32 123.00,474.31 123.50,474.14 124.00,473.81 124.50,473.64 125.00,473.61 125.50,473.53 126.00,473.22 126.50,473.06 127.00,473.03 127.50,472.87 128.00,472.53 128.50,472.19 129.00,471.87 129.50,471.34 130.00,471.10 130.50,470.80 131.00,470.77 131.50,470.40 132.00,470.39 132.50,470.17 133.00,469.87 133.50,469.29 134.00,468.96 134.50,468.84 135.00,468.31 135.50,467.69 136.00,467.13 136.50,466.46 137.00,465.94 137.50,465.60 138.00,465.43 138.50,464.62 139.00,463.75 139.50,462.93 140.00,462.74 140.50,462.68 141.00,462.41 141.50,462.07 142.00,461.64 142.50,461.31 143.00,461.19 143.50,461.35 144.00,461.34 144.50,460.62 145.00,459.71 145.50,459.56 146.00,460.16 146.50,461.33 147.00,461.48 147.50,461.35 148.00,461.16 148.50,461.37 149.00,462.12 149.50,462.76 150.00,463.43 150.50,463.93 151.00,464.43 151.50,464.75 152.00,465.46 152.50,466.76 153.00,467.54 153.50,467.94 154.00,468.78 154.50,469.85 155.00,470.64 155.50,471.22 156.00,471.68 156.50,472.10 157.00,472.41 157.50,472.79 158.00,473.23 158.50,473.73 159.00,474.08 159.50,474.37 160.00,474.78 160.50,475.02 161.00,475.17 161.50,475.16 162.00,475.32 162.50,475.44 163.00,475.61 163.50,475.64 164.00,475.72 164.50,475.84 165.00,475.95 165.50,476.01 166.00,476.04 166.50,476.09 167.00,476.11 167.50,476.12 168.00,476.15 168.50,476.20 169.00,476.24 169.50,476.24 170.00,476.25 170.00,476.25" fill="none" stroke="#1a5389" stroke-width="1.45" stroke-linejoin="round"/>
<text x="225.30" y="472.75" font-size="7.4" text-anchor="end" font-weight="normal" fill="#222" >85</text>
<rect x="102.80" y="351.50" width="124.80" height="124.75" fill="none" stroke="#111" stroke-width="1.2"/>
<line x1="102.80" y1="476.25" x2="102.80" y2="479.65" stroke="#222" stroke-width="1.05" />
<line x1="115.56" y1="476.25" x2="115.56" y2="478.85" stroke="#222" stroke-width="1.05" />
<line x1="123.03" y1="476.25" x2="123.03" y2="478.85" stroke="#222" stroke-width="1.05" />
<line x1="128.33" y1="476.25" x2="128.33" y2="478.85" stroke="#222" stroke-width="1.05" />
<line x1="132.44" y1="476.25" x2="132.44" y2="478.85" stroke="#222" stroke-width="1.05" />
<line x1="135.79" y1="476.25" x2="135.79" y2="478.85" stroke="#222" stroke-width="1.05" />
<line x1="138.63" y1="476.25" x2="138.63" y2="478.85" stroke="#222" stroke-width="1.05" />
<line x1="141.09" y1="476.25" x2="141.09" y2="478.85" stroke="#222" stroke-width="1.05" />
<line x1="143.26" y1="476.25" x2="143.26" y2="478.85" stroke="#222" stroke-width="1.05" />
<line x1="145.20" y1="476.25" x2="145.20" y2="479.65" stroke="#222" stroke-width="1.05" />
<line x1="157.96" y1="476.25" x2="157.96" y2="478.85" stroke="#222" stroke-width="1.05" />
<line x1="165.43" y1="476.25" x2="165.43" y2="478.85" stroke="#222" stroke-width="1.05" />
<line x1="170.73" y1="476.25" x2="170.73" y2="478.85" stroke="#222" stroke-width="1.05" />
<line x1="174.84" y1="476.25" x2="174.84" y2="478.85" stroke="#222" stroke-width="1.05" />
<line x1="178.19" y1="476.25" x2="178.19" y2="478.85" stroke="#222" stroke-width="1.05" />
<line x1="181.03" y1="476.25" x2="181.03" y2="478.85" stroke="#222" stroke-width="1.05" />
<line x1="183.49" y1="476.25" x2="183.49" y2="478.85" stroke="#222" stroke-width="1.05" />
<line x1="185.66" y1="476.25" x2="185.66" y2="478.85" stroke="#222" stroke-width="1.05" />
<line x1="187.60" y1="476.25" x2="187.60" y2="479.65" stroke="#222" stroke-width="1.05" />
<line x1="200.36" y1="476.25" x2="200.36" y2="478.85" stroke="#222" stroke-width="1.05" />
<line x1="207.83" y1="476.25" x2="207.83" y2="478.85" stroke="#222" stroke-width="1.05" />
<line x1="213.13" y1="476.25" x2="213.13" y2="478.85" stroke="#222" stroke-width="1.05" />
<line x1="217.24" y1="476.25" x2="217.24" y2="478.85" stroke="#222" stroke-width="1.05" />
<line x1="220.59" y1="476.25" x2="220.59" y2="478.85" stroke="#222" stroke-width="1.05" />
<line x1="223.43" y1="476.25" x2="223.43" y2="478.85" stroke="#222" stroke-width="1.05" />
<line x1="225.89" y1="476.25" x2="225.89" y2="478.85" stroke="#222" stroke-width="1.05" />
<line x1="232.10" y1="373.80" x2="356.90" y2="373.80" stroke="#3cb54a" stroke-width="1.5" />
<line x1="280.50" y1="373.80" x2="313.50" y2="373.80" stroke="#333" stroke-width="1.5" />
<polyline points="278.00,373.80 278.00,373.80 278.50,373.77 279.00,373.69 279.50,373.59 280.00,373.49 280.50,373.40 281.00,373.27 281.50,373.07 282.00,372.86 282.50,372.66 283.00,372.44 283.50,372.19 284.00,371.90 284.50,371.52 285.00,370.91 285.50,370.20 286.00,369.46 286.50,368.58 287.00,367.56 287.50,366.61 288.00,365.75 288.50,364.78 289.00,363.61 289.50,362.66 290.00,361.62 290.50,360.76 291.00,359.71 291.50,358.95 292.00,358.22 292.50,357.73 293.00,357.19 293.50,356.81 294.00,356.55 294.50,356.44 295.00,356.46 295.50,356.34 296.00,356.14 296.50,356.00 297.00,356.04 297.50,356.14 298.00,356.22 298.50,356.16 299.00,356.18 299.50,356.86 300.00,357.96 300.50,358.73 301.00,359.06 301.50,359.58 302.00,360.47 302.50,361.43 303.00,362.32 303.50,363.19 304.00,364.04 304.50,364.83 305.00,365.70 305.50,366.62 306.00,367.39 306.50,368.07 307.00,368.60 307.50,369.05 308.00,369.59 308.50,370.30 309.00,370.89 309.50,371.23 310.00,371.49 310.50,371.80 311.00,372.20 311.50,372.59 312.00,372.87 312.50,373.10 313.00,373.26 313.50,373.40 314.00,373.51 314.50,373.62 315.00,373.71 315.50,373.77 316.00,373.80 316.00,373.80" fill="#9ad8a3" stroke="#3cb54a" stroke-width="1.45" stroke-linejoin="round"/>
<text x="354.60" y="370.30" font-size="7.4" text-anchor="end" font-weight="normal" fill="#222" >332</text>
<line x1="232.10" y1="393.80" x2="356.90" y2="393.80" stroke="#bb6c28" stroke-width="1.5" />
<line x1="232.10" y1="393.80" x2="294.00" y2="393.80" stroke="#333" stroke-width="1.5" />
<polyline points="232.80,393.80 232.80,384.30 233.70,393.54 233.00,393.54 233.50,393.52 234.00,393.48 234.50,393.43 235.00,393.43 235.50,393.49 236.00,393.58 236.50,393.58 237.00,393.52 237.50,393.50 238.00,393.47 238.50,393.46 239.00,393.45 239.50,393.55 240.00,393.57 240.50,393.51 241.00,393.52 241.50,393.50 242.00,393.41 242.50,393.30 243.00,393.32 243.50,393.26 244.00,393.16 244.50,393.21 245.00,393.33 245.50,393.35 246.00,393.28 246.50,393.37 247.00,393.33 247.50,393.26 248.00,393.10 248.50,393.08 249.00,392.92 249.50,392.83 250.00,392.80 250.50,392.73 251.00,392.44 251.50,392.25 252.00,392.09 252.50,392.01 253.00,391.92 253.50,391.78 254.00,391.65 254.50,391.40 255.00,391.39 255.50,391.12 256.00,391.17 256.50,391.10 257.00,390.83 257.50,390.38 258.00,390.12 258.50,390.15 259.00,389.96 259.50,389.95 260.00,389.97 260.50,389.88 261.00,389.56 261.50,389.34 262.00,389.10 262.50,388.72 263.00,388.38 263.50,387.77 264.00,387.06 264.50,386.37 265.00,386.19 265.50,386.07 266.00,386.15 266.50,385.83 267.00,385.66 267.50,385.21 268.00,384.47 268.50,383.13 269.00,382.31 269.50,382.35 270.00,382.38 270.50,382.30 271.00,381.59 271.50,381.19 272.00,380.40 272.50,379.31 273.00,378.21 273.50,377.26 274.00,377.19 274.50,377.32 275.00,377.49 275.50,376.89 276.00,376.91 276.50,377.49 277.00,378.34 277.50,378.39 278.00,378.03 278.50,377.54 279.00,377.74 279.50,378.54 280.00,378.75 280.50,378.59 281.00,378.50 281.50,379.11 282.00,380.29 282.50,380.69 283.00,381.04 283.50,381.42 284.00,382.22 284.50,383.20 285.00,383.96 285.50,384.57 286.00,384.59 286.50,384.85 287.00,385.26 287.50,386.39 288.00,387.49 288.50,388.10 289.00,388.38 289.50,389.19 290.00,390.15 290.50,390.67 291.00,390.87 291.50,391.19 292.00,391.95 292.50,392.33 293.00,392.88 293.50,393.21 294.00,393.37 294.50,393.39 295.00,393.58 295.50,393.77 296.00,393.80 296.00,393.80" fill="#dcb48d" stroke="#bb6c28" stroke-width="1.45" stroke-linejoin="round"/>
<text x="354.60" y="390.30" font-size="7.4" text-anchor="end" font-weight="normal" fill="#222" >96</text>
<line x1="232.10" y1="414.60" x2="356.90" y2="414.60" stroke="#c8102e" stroke-width="1.5" />
<line x1="294.00" y1="414.60" x2="323.50" y2="414.60" stroke="#333" stroke-width="1.5" />
<polyline points="291.00,414.60 291.00,414.60 291.50,414.58 292.00,414.54 292.50,414.47 293.00,414.38 293.50,414.28 294.00,414.17 294.50,414.01 295.00,413.69 295.50,413.25 296.00,412.70 296.50,412.13 297.00,411.60 297.50,410.92 298.00,409.92 298.50,408.67 299.00,407.44 299.50,406.30 300.00,405.32 300.50,404.36 301.00,403.29 301.50,402.30 302.00,401.24 302.50,399.93 303.00,398.65 303.50,397.71 304.00,397.35 304.50,397.01 305.00,396.93 305.50,396.71 306.00,396.68 306.50,396.49 307.00,396.24 307.50,396.14 308.00,396.33 308.50,396.92 309.00,397.52 309.50,398.27 310.00,399.03 310.50,399.48 311.00,399.54 311.50,399.67 312.00,400.32 312.50,400.93 313.00,401.58 313.50,402.43 314.00,403.62 314.50,404.60 315.00,405.47 315.50,406.02 316.00,406.72 316.50,407.71 317.00,408.80 317.50,409.59 318.00,410.38 318.50,411.02 319.00,411.49 319.50,411.91 320.00,412.42 320.50,412.96 321.00,413.44 321.50,413.68 322.00,413.76 322.50,413.93 323.00,414.12 323.50,414.25 324.00,414.32 324.50,414.40 325.00,414.49 325.50,414.56 326.00,414.60 326.00,414.60" fill="#e2879a" stroke="#c8102e" stroke-width="1.45" stroke-linejoin="round"/>
<text x="354.60" y="411.10" font-size="7.4" text-anchor="end" font-weight="normal" fill="#222" >598</text>
<line x1="232.10" y1="435.30" x2="356.90" y2="435.30" stroke="#1a5389" stroke-width="1.5" />
<line x1="232.10" y1="435.30" x2="296.00" y2="435.30" stroke="#333" stroke-width="1.5" />
<polyline points="232.80,435.30 232.80,426.30 233.70,434.99 233.00,434.99 233.50,435.04 234.00,435.18 234.50,435.20 235.00,435.14 235.50,434.97 236.00,434.83 236.50,434.68 237.00,434.68 237.50,434.68 238.00,434.58 238.50,434.53 239.00,434.46 239.50,434.41 240.00,434.29 240.50,434.21 241.00,434.22 241.50,434.17 242.00,434.24 242.50,434.24 243.00,434.34 243.50,434.18 244.00,434.09 244.50,433.98 245.00,434.02 245.50,433.81 246.00,433.52 246.50,433.29 247.00,433.21 247.50,433.21 248.00,432.97 248.50,432.98 249.00,433.19 249.50,433.23 250.00,433.07 250.50,432.99 251.00,433.18 251.50,433.26 252.00,433.12 252.50,433.04 253.00,432.63 253.50,432.35 254.00,432.36 254.50,432.73 255.00,432.78 255.50,432.68 256.00,432.46 256.50,432.20 257.00,431.93 257.50,431.89 258.00,431.66 258.50,431.14 259.00,430.62 259.50,430.48 260.00,430.42 260.50,430.48 261.00,430.25 261.50,430.18 262.00,429.63 262.50,429.39 263.00,429.06 263.50,428.72 264.00,427.88 264.50,427.52 265.00,427.35 265.50,426.97 266.00,426.14 266.50,425.77 267.00,425.42 267.50,425.01 268.00,424.03 268.50,423.23 269.00,422.92 269.50,423.32 270.00,422.86 270.50,421.36 271.00,420.05 271.50,419.46 272.00,419.56 272.50,419.91 273.00,419.85 273.50,419.32 274.00,418.67 274.50,419.14 275.00,419.28 275.50,419.52 276.00,418.99 276.50,419.12 277.00,419.31 277.50,419.78 278.00,419.34 278.50,419.13 279.00,419.55 279.50,420.60 280.00,421.31 280.50,421.12 281.00,421.54 281.50,422.24 282.00,422.90 282.50,422.61 283.00,423.04 283.50,423.80 284.00,424.53 284.50,424.99 285.00,425.85 285.50,426.48 286.00,427.35 286.50,428.04 287.00,429.32 287.50,430.18 288.00,431.26 288.50,432.06 289.00,432.63 289.50,432.92 290.00,433.16 290.50,433.65 291.00,433.79 291.50,434.02 292.00,434.26 292.50,434.51 293.00,434.54 293.50,434.60 294.00,434.70 294.50,434.70 295.00,434.67 295.50,434.79 296.00,434.98 296.50,435.06 297.00,435.15 297.50,435.28 298.00,435.30 298.50,435.30 299.00,435.30 299.00,435.30" fill="#86a6c4" stroke="#1a5389" stroke-width="1.45" stroke-linejoin="round"/>
<text x="354.60" y="431.80" font-size="7.4" text-anchor="end" font-weight="normal" fill="#222" >91</text>
<line x1="232.10" y1="455.80" x2="356.90" y2="455.80" stroke="#c8102e" stroke-width="1.5" />
<line x1="293.50" y1="455.80" x2="323.50" y2="455.80" stroke="#333" stroke-width="1.5" />
<polyline points="291.00,455.80 291.00,455.80 291.50,455.78 292.00,455.73 292.50,455.65 293.00,455.55 293.50,455.43 294.00,455.30 294.50,455.12 295.00,454.87 295.50,454.55 296.00,454.17 296.50,453.75 297.00,453.30 297.50,452.75 298.00,452.06 298.50,451.27 299.00,450.41 299.50,449.52 300.00,448.62 300.50,447.64 301.00,446.57 301.50,445.47 302.00,444.38 302.50,443.36 303.00,442.44 303.50,441.54 304.00,440.65 304.50,439.82 305.00,439.09 305.50,438.49 306.00,438.03 306.50,437.60 307.00,437.22 307.50,436.94 308.00,436.80 308.50,436.87 309.00,437.14 309.50,437.57 310.00,438.10 310.50,438.69 311.00,439.30 311.50,440.02 312.00,440.94 312.50,441.98 313.00,443.08 313.50,444.18 314.00,445.21 314.50,446.31 315.00,447.44 315.50,448.56 316.00,449.60 316.50,450.49 317.00,451.23 317.50,451.91 318.00,452.54 318.50,453.10 319.00,453.57 319.50,453.94 320.00,454.22 320.50,454.46 321.00,454.68 321.50,454.87 322.00,455.03 322.50,455.18 323.00,455.30 323.50,455.41 324.00,455.52 324.50,455.61 325.00,455.69 325.50,455.76 326.00,455.80 326.00,455.80" fill="none" stroke="#c8102e" stroke-width="1.45" stroke-linejoin="round"/>
<text x="354.60" y="452.30" font-size="7.4" text-anchor="end" font-weight="normal" fill="#222" >606</text>
<line x1="232.10" y1="476.25" x2="356.90" y2="476.25" stroke="#1a5389" stroke-width="1.5" />
<line x1="265.50" y1="476.25" x2="307.00" y2="476.25" stroke="#333" stroke-width="1.5" />
<polyline points="262.00,476.25 262.00,476.25 262.50,476.21 263.00,476.19 263.50,476.14 264.00,476.07 264.50,475.99 265.00,475.92 265.50,475.81 266.00,475.71 266.50,475.59 267.00,475.44 267.50,475.25 268.00,475.14 268.50,474.97 269.00,474.79 269.50,474.51 270.00,474.39 270.50,474.17 271.00,473.88 271.50,473.44 272.00,472.96 272.50,472.42 273.00,471.98 273.50,471.57 274.00,471.08 274.50,470.48 275.00,470.02 275.50,469.64 276.00,469.23 276.50,468.79 277.00,468.40 277.50,467.76 278.00,467.09 278.50,466.46 279.00,466.06 279.50,465.32 280.00,464.49 280.50,463.81 281.00,463.36 281.50,463.03 282.00,462.30 282.50,461.58 283.00,461.07 283.50,460.68 284.00,460.23 284.50,459.76 285.00,459.50 285.50,459.28 286.00,459.11 286.50,458.81 287.00,458.50 287.50,458.48 288.00,458.33 288.50,458.24 289.00,458.28 289.50,458.62 290.00,458.52 290.50,458.28 291.00,458.24 291.50,458.56 292.00,459.29 292.50,459.98 293.00,460.60 293.50,461.00 294.00,461.53 294.50,462.39 295.00,462.90 295.50,463.64 296.00,464.32 296.50,465.36 297.00,466.10 297.50,467.03 298.00,468.25 298.50,469.30 299.00,469.93 299.50,470.44 300.00,471.14 300.50,471.96 301.00,472.41 301.50,472.75 302.00,473.15 302.50,473.67 303.00,474.10 303.50,474.48 304.00,474.83 304.50,475.08 305.00,475.23 305.50,475.35 306.00,475.51 306.50,475.67 307.00,475.81 307.50,475.91 308.00,476.01 308.50,476.06 309.00,476.11 309.50,476.15 310.00,476.20 310.50,476.23 311.00,476.25 311.00,476.25" fill="none" stroke="#1a5389" stroke-width="1.45" stroke-linejoin="round"/>
<text x="354.60" y="472.75" font-size="7.4" text-anchor="end" font-weight="normal" fill="#222" >209</text>
<rect x="232.10" y="351.50" width="124.80" height="124.75" fill="none" stroke="#111" stroke-width="1.2"/>
<line x1="232.10" y1="476.25" x2="232.10" y2="479.65" stroke="#222" stroke-width="1.05" />
<line x1="244.86" y1="476.25" x2="244.86" y2="478.85" stroke="#222" stroke-width="1.05" />
<line x1="252.33" y1="476.25" x2="252.33" y2="478.85" stroke="#222" stroke-width="1.05" />
<line x1="257.63" y1="476.25" x2="257.63" y2="478.85" stroke="#222" stroke-width="1.05" />
<line x1="261.74" y1="476.25" x2="261.74" y2="478.85" stroke="#222" stroke-width="1.05" />
<line x1="265.09" y1="476.25" x2="265.09" y2="478.85" stroke="#222" stroke-width="1.05" />
<line x1="267.93" y1="476.25" x2="267.93" y2="478.85" stroke="#222" stroke-width="1.05" />
<line x1="270.39" y1="476.25" x2="270.39" y2="478.85" stroke="#222" stroke-width="1.05" />
<line x1="272.56" y1="476.25" x2="272.56" y2="478.85" stroke="#222" stroke-width="1.05" />
<line x1="274.50" y1="476.25" x2="274.50" y2="479.65" stroke="#222" stroke-width="1.05" />
<line x1="287.26" y1="476.25" x2="287.26" y2="478.85" stroke="#222" stroke-width="1.05" />
<line x1="294.73" y1="476.25" x2="294.73" y2="478.85" stroke="#222" stroke-width="1.05" />
<line x1="300.03" y1="476.25" x2="300.03" y2="478.85" stroke="#222" stroke-width="1.05" />
<line x1="304.14" y1="476.25" x2="304.14" y2="478.85" stroke="#222" stroke-width="1.05" />
<line x1="307.49" y1="476.25" x2="307.49" y2="478.85" stroke="#222" stroke-width="1.05" />
<line x1="310.33" y1="476.25" x2="310.33" y2="478.85" stroke="#222" stroke-width="1.05" />
<line x1="312.79" y1="476.25" x2="312.79" y2="478.85" stroke="#222" stroke-width="1.05" />
<line x1="314.96" y1="476.25" x2="314.96" y2="478.85" stroke="#222" stroke-width="1.05" />
<line x1="316.90" y1="476.25" x2="316.90" y2="479.65" stroke="#222" stroke-width="1.05" />
<line x1="329.66" y1="476.25" x2="329.66" y2="478.85" stroke="#222" stroke-width="1.05" />
<line x1="337.13" y1="476.25" x2="337.13" y2="478.85" stroke="#222" stroke-width="1.05" />
<line x1="342.43" y1="476.25" x2="342.43" y2="478.85" stroke="#222" stroke-width="1.05" />
<line x1="346.54" y1="476.25" x2="346.54" y2="478.85" stroke="#222" stroke-width="1.05" />
<line x1="349.89" y1="476.25" x2="349.89" y2="478.85" stroke="#222" stroke-width="1.05" />
<line x1="352.73" y1="476.25" x2="352.73" y2="478.85" stroke="#222" stroke-width="1.05" />
<line x1="355.19" y1="476.25" x2="355.19" y2="478.85" stroke="#222" stroke-width="1.05" />
<line x1="361.80" y1="373.80" x2="486.60" y2="373.80" stroke="#3cb54a" stroke-width="1.5" />
<line x1="415.00" y1="373.80" x2="453.00" y2="373.80" stroke="#333" stroke-width="1.5" />
<polyline points="412.00,373.80 412.00,373.80 412.50,373.76 413.00,373.71 413.50,373.65 414.00,373.62 414.50,373.56 415.00,373.46 415.50,373.29 416.00,373.15 416.50,373.00 417.00,372.88 417.50,372.66 418.00,372.38 418.50,372.13 419.00,371.92 419.50,371.71 420.00,371.37 420.50,370.87 421.00,370.28 421.50,369.64 422.00,369.08 422.50,368.56 423.00,368.08 423.50,367.31 424.00,366.21 424.50,365.03 425.00,364.22 425.50,363.75 426.00,363.01 426.50,362.01 427.00,361.30 427.50,360.66 428.00,359.91 428.50,358.85 429.00,358.09 429.50,357.30 430.00,356.82 430.50,356.49 431.00,356.26 431.50,356.07 432.00,355.64 432.50,355.53 433.00,355.69 433.50,355.86 434.00,355.69 434.50,355.37 435.00,355.26 435.50,355.57 436.00,355.93 436.50,356.18 437.00,356.29 437.50,356.99 438.00,357.62 438.50,358.05 439.00,358.43 439.50,359.06 440.00,359.53 440.50,360.02 441.00,360.62 441.50,361.27 442.00,361.90 442.50,362.68 443.00,363.53 443.50,364.17 444.00,364.92 444.50,365.76 445.00,366.63 445.50,367.46 446.00,368.24 446.50,368.96 447.00,369.55 447.50,370.15 448.00,370.69 448.50,371.13 449.00,371.65 449.50,372.14 450.00,372.38 450.50,372.48 451.00,372.71 451.50,373.00 452.00,373.14 452.50,373.23 453.00,373.31 453.50,373.40 454.00,373.48 454.50,373.60 455.00,373.68 455.50,373.73 456.00,373.80 456.00,373.80" fill="#9ad8a3" stroke="#3cb54a" stroke-width="1.45" stroke-linejoin="round"/>
<text x="484.30" y="370.30" font-size="7.4" text-anchor="end" font-weight="normal" fill="#222" >524</text>
<line x1="361.80" y1="393.80" x2="486.60" y2="393.80" stroke="#bb6c28" stroke-width="1.5" />
<line x1="361.80" y1="393.80" x2="412.00" y2="393.80" stroke="#333" stroke-width="1.5" />
<polyline points="362.50,393.80 362.50,375.00 363.40,391.26 363.00,391.26 363.50,391.09 364.00,390.97 364.50,391.22 365.00,391.57 365.50,391.85 366.00,391.80 366.50,391.54 367.00,391.35 367.50,391.39 368.00,391.47 368.50,391.72 369.00,392.05 369.50,392.19 370.00,392.04 370.50,391.86 371.00,392.01 371.50,392.10 372.00,392.14 372.50,391.85 373.00,391.70 373.50,391.43 374.00,391.21 374.50,390.87 375.00,390.52 375.50,390.53 376.00,390.87 376.50,390.86 377.00,390.18 377.50,389.45 378.00,389.39 378.50,389.43 379.00,389.47 379.50,389.58 380.00,389.66 380.50,389.34 381.00,388.89 381.50,388.20 382.00,388.12 382.50,387.99 383.00,387.74 383.50,387.11 384.00,387.06 384.50,387.33 385.00,387.11 385.50,386.20 386.00,385.35 386.50,384.89 387.00,385.11 387.50,384.85 388.00,384.59 388.50,384.51 389.00,384.68 389.50,384.37 390.00,383.51 390.50,383.02 391.00,382.70 391.50,382.05 392.00,381.74 392.50,382.16 393.00,382.23 393.50,381.49 394.00,381.14 394.50,381.41 395.00,381.60 395.50,381.50 396.00,381.61 396.50,381.40 397.00,381.81 397.50,382.17 398.00,382.38 398.50,382.23 399.00,382.11 399.50,382.36 400.00,382.74 400.50,383.15 401.00,383.43 401.50,383.99 402.00,384.66 402.50,384.95 403.00,384.95 403.50,385.02 404.00,385.09 404.50,385.41 405.00,385.74 405.50,386.26 406.00,387.11 406.50,387.86 407.00,388.41 407.50,389.14 408.00,390.07 408.50,390.62 409.00,391.02 409.50,391.47 410.00,392.01 410.50,392.45 411.00,392.94 411.50,393.25 412.00,393.51 412.50,393.67 413.00,393.80 413.00,393.80" fill="#dcb48d" stroke="#bb6c28" stroke-width="1.45" stroke-linejoin="round"/>
<text x="484.30" y="390.30" font-size="7.4" text-anchor="end" font-weight="normal" fill="#222" >38</text>
<line x1="361.80" y1="455.80" x2="486.60" y2="455.80" stroke="#c8102e" stroke-width="1.5" />
<line x1="415.50" y1="455.80" x2="453.00" y2="455.80" stroke="#333" stroke-width="1.5" />
<polyline points="412.00,455.80 412.00,455.80 412.50,455.79 413.00,455.76 413.50,455.71 414.00,455.65 414.50,455.57 415.00,455.49 415.50,455.40 416.00,455.30 416.50,455.18 417.00,455.01 417.50,454.81 418.00,454.58 418.50,454.32 419.00,454.04 419.50,453.74 420.00,453.40 420.50,453.01 421.00,452.57 421.50,452.09 422.00,451.57 422.50,451.01 423.00,450.42 423.50,449.80 424.00,449.10 424.50,448.28 425.00,447.38 425.50,446.43 426.00,445.47 426.50,444.52 427.00,443.62 427.50,442.68 428.00,441.69 428.50,440.72 429.00,439.85 429.50,439.13 430.00,438.61 430.50,438.15 431.00,437.72 431.50,437.33 432.00,437.00 432.50,436.76 433.00,436.62 433.50,436.61 434.00,436.74 434.50,436.98 435.00,437.31 435.50,437.70 436.00,438.13 436.50,438.60 437.00,439.27 437.50,440.09 438.00,441.00 438.50,441.92 439.00,442.80 439.50,443.65 440.00,444.54 440.50,445.44 441.00,446.32 441.50,447.16 442.00,447.95 442.50,448.73 443.00,449.51 443.50,450.25 444.00,450.93 444.50,451.51 445.00,451.97 445.50,452.39 446.00,452.77 446.50,453.12 447.00,453.44 447.50,453.72 448.00,453.97 448.50,454.19 449.00,454.37 449.50,454.53 450.00,454.67 450.50,454.80 451.00,454.92 451.50,455.02 452.00,455.13 452.50,455.22 453.00,455.32 453.50,455.41 454.00,455.50 454.50,455.58 455.00,455.66 455.50,455.73 456.00,455.80 456.00,455.80" fill="none" stroke="#c8102e" stroke-width="1.45" stroke-linejoin="round"/>
<text x="484.30" y="452.30" font-size="7.4" text-anchor="end" font-weight="normal" fill="#222" >503</text>
<line x1="361.80" y1="476.25" x2="486.60" y2="476.25" stroke="#1a5389" stroke-width="1.5" />
<line x1="361.80" y1="476.25" x2="420.00" y2="476.25" stroke="#333" stroke-width="1.5" />
<polyline points="362.50,476.25 362.50,465.25 363.40,476.01 363.50,476.01 364.00,475.93 364.50,475.81 365.00,475.81 365.50,475.82 366.00,475.85 366.50,475.88 367.00,475.89 367.50,475.83 368.00,475.72 368.50,475.70 369.00,475.65 369.50,475.71 370.00,475.72 370.50,475.72 371.00,475.54 371.50,475.47 372.00,475.58 372.50,475.61 373.00,475.50 373.50,475.41 374.00,475.47 374.50,475.48 375.00,475.36 375.50,475.19 376.00,475.19 376.50,475.05 377.00,474.97 377.50,474.90 378.00,474.97 378.50,474.89 379.00,474.64 379.50,474.49 380.00,474.48 380.50,474.63 381.00,474.65 381.50,474.53 382.00,474.29 382.50,474.11 383.00,473.80 383.50,473.62 384.00,473.44 384.50,473.33 385.00,473.33 385.50,473.36 386.00,473.20 386.50,472.74 387.00,472.48 387.50,472.32 388.00,472.18 388.50,472.03 389.00,472.02 389.50,472.01 390.00,471.58 390.50,471.10 391.00,470.74 391.50,470.39 392.00,469.62 392.50,469.24 393.00,469.26 393.50,469.03 394.00,468.60 394.50,467.96 395.00,467.29 395.50,466.57 396.00,466.01 396.50,465.32 397.00,464.37 397.50,463.51 398.00,463.46 398.50,463.35 399.00,463.26 399.50,462.96 400.00,462.76 400.50,462.30 401.00,461.96 401.50,461.68 402.00,461.43 402.50,461.62 403.00,461.79 403.50,461.24 404.00,460.85 404.50,461.38 405.00,462.04 405.50,462.18 406.00,461.36 406.50,460.98 407.00,461.15 407.50,461.77 408.00,462.58 408.50,463.41 409.00,464.18 409.50,465.01 410.00,465.89 410.50,466.60 411.00,467.55 411.50,468.56 412.00,469.47 412.50,470.09 413.00,471.04 413.50,471.76 414.00,472.15 414.50,472.34 415.00,472.87 415.50,473.41 416.00,473.65 416.50,473.86 417.00,474.22 417.50,474.42 418.00,474.67 418.50,475.03 419.00,475.48 419.50,475.70 420.00,475.76 420.50,475.82 421.00,475.98 421.50,476.15 422.00,476.21 422.50,476.22 423.00,476.25 423.00,476.25" fill="none" stroke="#1a5389" stroke-width="1.45" stroke-linejoin="round"/>
<text x="484.30" y="472.75" font-size="7.4" text-anchor="end" font-weight="normal" fill="#222" >85</text>
<rect x="361.80" y="351.50" width="124.80" height="124.75" fill="none" stroke="#111" stroke-width="1.2"/>
<line x1="361.80" y1="476.25" x2="361.80" y2="479.65" stroke="#222" stroke-width="1.05" />
<line x1="374.56" y1="476.25" x2="374.56" y2="478.85" stroke="#222" stroke-width="1.05" />
<line x1="382.03" y1="476.25" x2="382.03" y2="478.85" stroke="#222" stroke-width="1.05" />
<line x1="387.33" y1="476.25" x2="387.33" y2="478.85" stroke="#222" stroke-width="1.05" />
<line x1="391.44" y1="476.25" x2="391.44" y2="478.85" stroke="#222" stroke-width="1.05" />
<line x1="394.79" y1="476.25" x2="394.79" y2="478.85" stroke="#222" stroke-width="1.05" />
<line x1="397.63" y1="476.25" x2="397.63" y2="478.85" stroke="#222" stroke-width="1.05" />
<line x1="400.09" y1="476.25" x2="400.09" y2="478.85" stroke="#222" stroke-width="1.05" />
<line x1="402.26" y1="476.25" x2="402.26" y2="478.85" stroke="#222" stroke-width="1.05" />
<line x1="404.20" y1="476.25" x2="404.20" y2="479.65" stroke="#222" stroke-width="1.05" />
<line x1="416.96" y1="476.25" x2="416.96" y2="478.85" stroke="#222" stroke-width="1.05" />
<line x1="424.43" y1="476.25" x2="424.43" y2="478.85" stroke="#222" stroke-width="1.05" />
<line x1="429.73" y1="476.25" x2="429.73" y2="478.85" stroke="#222" stroke-width="1.05" />
<line x1="433.84" y1="476.25" x2="433.84" y2="478.85" stroke="#222" stroke-width="1.05" />
<line x1="437.19" y1="476.25" x2="437.19" y2="478.85" stroke="#222" stroke-width="1.05" />
<line x1="440.03" y1="476.25" x2="440.03" y2="478.85" stroke="#222" stroke-width="1.05" />
<line x1="442.49" y1="476.25" x2="442.49" y2="478.85" stroke="#222" stroke-width="1.05" />
<line x1="444.66" y1="476.25" x2="444.66" y2="478.85" stroke="#222" stroke-width="1.05" />
<line x1="446.60" y1="476.25" x2="446.60" y2="479.65" stroke="#222" stroke-width="1.05" />
<line x1="459.36" y1="476.25" x2="459.36" y2="478.85" stroke="#222" stroke-width="1.05" />
<line x1="466.83" y1="476.25" x2="466.83" y2="478.85" stroke="#222" stroke-width="1.05" />
<line x1="472.13" y1="476.25" x2="472.13" y2="478.85" stroke="#222" stroke-width="1.05" />
<line x1="476.24" y1="476.25" x2="476.24" y2="478.85" stroke="#222" stroke-width="1.05" />
<line x1="479.59" y1="476.25" x2="479.59" y2="478.85" stroke="#222" stroke-width="1.05" />
<line x1="482.43" y1="476.25" x2="482.43" y2="478.85" stroke="#222" stroke-width="1.05" />
<line x1="484.89" y1="476.25" x2="484.89" y2="478.85" stroke="#222" stroke-width="1.05" />
<text x="99.20" y="374.20" font-size="8.0" text-anchor="end" font-weight="normal" fill="#000"  textLength="62.94" lengthAdjust="spacingAndGlyphs">3D doxo+Mg+TSC</text>
<text x="99.20" y="394.20" font-size="8.0" text-anchor="end" font-weight="normal" fill="#000"  textLength="60.82" lengthAdjust="spacingAndGlyphs">3D CTL+Mg+TSC</text>
<text x="99.20" y="415.00" font-size="8.0" text-anchor="end" font-weight="normal" fill="#000"  textLength="28.31" lengthAdjust="spacingAndGlyphs">3D doxo</text>
<text x="99.20" y="435.70" font-size="8.0" text-anchor="end" font-weight="normal" fill="#000"  textLength="26.18" lengthAdjust="spacingAndGlyphs">3D CTL</text>
<text x="99.20" y="456.20" font-size="8.0" text-anchor="end" font-weight="normal" fill="#000"  textLength="28.31" lengthAdjust="spacingAndGlyphs">2D doxo</text>
<text x="99.20" y="476.65" font-size="8.0" text-anchor="end" font-weight="normal" fill="#000"  textLength="26.18" lengthAdjust="spacingAndGlyphs">2D CTL</text>
<line x1="102.80" y1="513.00" x2="227.60" y2="513.00" stroke="#3cb54a" stroke-width="1.5" />
<line x1="136.50" y1="513.00" x2="174.50" y2="513.00" stroke="#333" stroke-width="1.5" />
<polyline points="133.00,513.00 133.00,513.00 133.50,512.99 134.00,512.95 134.50,512.90 135.00,512.81 135.50,512.74 136.00,512.68 136.50,512.58 137.00,512.50 137.50,512.37 138.00,512.17 138.50,511.85 139.00,511.58 139.50,511.35 140.00,511.11 140.50,510.84 141.00,510.56 141.50,510.22 142.00,509.79 142.50,509.49 143.00,509.19 143.50,508.98 144.00,508.49 144.50,508.03 145.00,507.47 145.50,507.26 146.00,506.91 146.50,506.50 147.00,505.91 147.50,505.66 148.00,505.32 148.50,504.97 149.00,504.52 149.50,504.15 150.00,503.65 150.50,503.14 151.00,502.76 151.50,502.14 152.00,501.42 152.50,500.50 153.00,499.72 153.50,499.04 154.00,498.43 154.50,497.66 155.00,497.23 155.50,496.85 156.00,496.71 156.50,496.66 157.00,496.53 157.50,496.30 158.00,495.93 158.50,495.70 159.00,495.64 159.50,496.04 160.00,496.14 160.50,496.33 161.00,496.85 161.50,497.59 162.00,498.24 162.50,499.08 163.00,499.94 163.50,501.04 164.00,501.70 164.50,502.42 165.00,503.04 165.50,503.83 166.00,504.31 166.50,505.03 167.00,505.80 167.50,506.58 168.00,507.29 168.50,508.15 169.00,508.82 169.50,509.33 170.00,509.74 170.50,510.25 171.00,510.79 171.50,511.32 172.00,511.82 172.50,512.17 173.00,512.27 173.50,512.35 174.00,512.46 174.50,512.59 175.00,512.66 175.50,512.72 176.00,512.79 176.50,512.86 177.00,512.93 177.50,512.98 178.00,513.00 178.00,513.00" fill="#9ad8a3" stroke="#3cb54a" stroke-width="1.45" stroke-linejoin="round"/>
<text x="225.30" y="509.50" font-size="7.4" text-anchor="end" font-weight="normal" fill="#222" >188</text>
<line x1="102.80" y1="533.00" x2="227.60" y2="533.00" stroke="#bb6c28" stroke-width="1.5" />
<line x1="102.80" y1="533.00" x2="164.00" y2="533.00" stroke="#333" stroke-width="1.5" />
<polyline points="103.50,533.00 103.50,523.00 104.40,532.62 104.50,532.62 105.00,532.53 105.50,532.52 106.00,532.62 106.50,532.63 107.00,532.52 107.50,532.54 108.00,532.55 108.50,532.46 109.00,532.14 109.50,532.23 110.00,532.45 110.50,532.50 111.00,532.46 111.50,532.45 112.00,532.57 112.50,532.46 113.00,532.55 113.50,532.44 114.00,532.08 114.50,531.68 115.00,531.55 115.50,531.65 116.00,531.48 116.50,531.32 117.00,531.08 117.50,531.40 118.00,531.48 118.50,531.64 119.00,531.33 119.50,531.18 120.00,531.09 120.50,531.09 121.00,530.73 121.50,530.25 122.00,530.07 122.50,530.29 123.00,530.46 123.50,530.64 124.00,530.30 124.50,529.64 125.00,529.03 125.50,528.89 126.00,529.21 126.50,529.04 127.00,528.69 127.50,528.65 128.00,529.07 128.50,528.79 129.00,528.07 129.50,526.82 130.00,526.10 130.50,525.91 131.00,526.26 131.50,525.25 132.00,524.54 132.50,523.97 133.00,523.81 133.50,522.68 134.00,522.36 134.50,522.51 135.00,522.73 135.50,522.56 136.00,521.86 136.50,521.73 137.00,520.87 137.50,520.77 138.00,520.59 138.50,521.33 139.00,521.14 139.50,520.95 140.00,520.35 140.50,519.70 141.00,519.48 141.50,519.73 142.00,519.28 142.50,518.47 143.00,518.18 143.50,517.82 144.00,516.67 144.50,517.32 145.00,518.31 145.50,517.76 146.00,515.79 146.50,515.82 147.00,515.71 147.50,516.28 148.00,516.70 148.50,517.52 149.00,517.36 149.50,517.21 150.00,517.02 150.50,517.53 151.00,518.22 151.50,519.71 152.00,521.08 152.50,521.86 153.00,522.16 153.50,522.64 154.00,524.01 154.50,524.99 155.00,526.00 155.50,526.42 156.00,527.00 156.50,527.55 157.00,527.88 157.50,527.90 158.00,528.30 158.50,528.83 159.00,529.27 159.50,529.88 160.00,530.78 160.50,530.97 161.00,530.67 161.50,530.72 162.00,531.27 162.50,531.82 163.00,532.27 163.50,532.47 164.00,532.63 164.50,532.63 165.00,532.75 165.50,532.78 166.00,532.82 166.50,532.84 167.00,533.00 167.00,533.00" fill="#dcb48d" stroke="#bb6c28" stroke-width="1.45" stroke-linejoin="round"/>
<text x="225.30" y="529.50" font-size="7.4" text-anchor="end" font-weight="normal" fill="#222" >93</text>
<line x1="102.80" y1="553.80" x2="227.60" y2="553.80" stroke="#c8102e" stroke-width="1.5" />
<line x1="146.50" y1="553.80" x2="190.50" y2="553.80" stroke="#333" stroke-width="1.5" />
<polyline points="143.00,553.80 143.00,553.80 143.50,553.79 144.00,553.76 144.50,553.72 145.00,553.62 145.50,553.54 146.00,553.45 146.50,553.37 147.00,553.29 147.50,553.19 148.00,552.96 148.50,552.69 149.00,552.43 149.50,552.17 150.00,551.89 150.50,551.57 151.00,551.17 151.50,550.66 152.00,550.22 152.50,549.86 153.00,549.52 153.50,549.14 154.00,548.62 154.50,548.08 155.00,547.38 155.50,546.54 156.00,545.89 156.50,545.33 157.00,544.89 157.50,544.27 158.00,543.76 158.50,543.15 159.00,542.43 159.50,541.49 160.00,540.57 160.50,539.93 161.00,539.40 161.50,538.83 162.00,538.32 162.50,537.73 163.00,537.41 163.50,536.97 164.00,536.50 164.50,535.76 165.00,535.17 165.50,534.81 166.00,534.82 166.50,535.16 167.00,535.35 167.50,535.23 168.00,535.06 168.50,535.86 169.00,536.81 169.50,537.40 170.00,537.56 170.50,537.85 171.00,538.14 171.50,538.50 172.00,538.99 172.50,539.66 173.00,540.29 173.50,540.97 174.00,541.36 174.50,542.11 175.00,542.86 175.50,543.53 176.00,543.97 176.50,544.51 177.00,545.22 177.50,545.81 178.00,546.34 178.50,546.63 179.00,547.11 179.50,547.63 180.00,548.29 180.50,548.87 181.00,549.36 181.50,549.77 182.00,550.16 182.50,550.60 183.00,550.88 183.50,551.10 184.00,551.43 184.50,551.73 185.00,551.99 185.50,552.15 186.00,552.40 186.50,552.55 187.00,552.73 187.50,552.89 188.00,553.04 188.50,553.10 189.00,553.13 189.50,553.18 190.00,553.26 190.50,553.37 191.00,553.50 191.50,553.57 192.00,553.60 192.50,553.64 193.00,553.68 193.50,553.74 194.00,553.80 194.00,553.80" fill="#e2879a" stroke="#c8102e" stroke-width="1.45" stroke-linejoin="round"/>
<text x="225.30" y="550.30" font-size="7.4" text-anchor="end" font-weight="normal" fill="#222" >323</text>
<line x1="102.80" y1="574.50" x2="227.60" y2="574.50" stroke="#1a5389" stroke-width="1.5" />
<line x1="102.80" y1="574.50" x2="164.00" y2="574.50" stroke="#333" stroke-width="1.5" />
<polyline points="103.50,574.50 103.50,563.70 104.40,574.36 104.50,574.36 105.00,574.37 105.50,574.30 106.00,574.21 106.50,574.23 107.00,574.27 107.50,574.29 108.00,574.18 108.50,574.02 109.00,573.95 109.50,574.02 110.00,574.03 110.50,574.07 111.00,573.95 111.50,573.90 112.00,573.85 112.50,573.96 113.00,573.94 113.50,574.17 114.00,574.34 114.50,574.10 115.00,573.52 115.50,573.30 116.00,573.48 116.50,573.50 117.00,573.47 117.50,573.25 118.00,573.27 118.50,573.28 119.00,573.80 119.50,573.48 120.00,573.09 120.50,572.43 121.00,572.61 121.50,572.59 122.00,572.64 122.50,572.33 123.00,571.89 123.50,571.23 124.00,570.81 124.50,571.10 125.00,571.23 125.50,570.87 126.00,570.34 126.50,570.16 127.00,570.07 127.50,570.15 128.00,570.11 128.50,569.53 129.00,569.27 129.50,569.37 130.00,569.32 130.50,569.19 131.00,569.26 131.50,569.64 132.00,569.34 132.50,569.28 133.00,568.70 133.50,568.12 134.00,567.18 134.50,566.38 135.00,566.52 135.50,565.62 136.00,564.63 136.50,563.82 137.00,564.26 137.50,563.52 138.00,562.98 138.50,562.78 139.00,562.77 139.50,561.92 140.00,561.70 140.50,561.27 141.00,560.91 141.50,560.34 142.00,559.67 142.50,559.16 143.00,559.33 143.50,559.47 144.00,558.75 144.50,557.83 145.00,557.54 145.50,556.16 146.00,555.52 146.50,555.71 147.00,557.01 147.50,556.83 148.00,557.15 148.50,558.00 149.00,559.71 149.50,559.93 150.00,559.40 150.50,559.99 151.00,561.39 151.50,561.88 152.00,561.22 152.50,562.09 153.00,563.51 153.50,564.17 154.00,564.44 154.50,565.41 155.00,566.74 155.50,567.88 156.00,568.66 156.50,569.08 157.00,569.75 157.50,570.43 158.00,570.67 158.50,570.78 159.00,571.19 159.50,571.91 160.00,572.19 160.50,572.69 161.00,572.69 161.50,573.01 162.00,573.27 162.50,573.75 163.00,573.87 163.50,573.93 164.00,574.00 164.50,574.08 165.00,574.06 165.50,574.01 166.00,574.11 166.50,574.20 167.00,574.35 167.50,574.47 168.00,574.50 168.00,574.50" fill="#86a6c4" stroke="#1a5389" stroke-width="1.45" stroke-linejoin="round"/>
<text x="225.30" y="571.00" font-size="7.4" text-anchor="end" font-weight="normal" fill="#222" >94</text>
<line x1="102.80" y1="595.00" x2="227.60" y2="595.00" stroke="#c8102e" stroke-width="1.5" />
<line x1="165.50" y1="595.00" x2="196.50" y2="595.00" stroke="#333" stroke-width="1.5" />
<polyline points="163.00,595.00 163.00,595.00 163.50,594.99 164.00,594.94 164.50,594.87 165.00,594.72 165.50,594.56 166.00,594.47 166.50,594.36 167.00,594.15 167.50,593.85 168.00,593.59 168.50,593.29 169.00,592.96 169.50,592.55 170.00,591.91 170.50,591.08 171.00,590.30 171.50,589.65 172.00,588.74 172.50,587.68 173.00,586.37 173.50,585.14 174.00,584.04 174.50,583.19 175.00,582.46 175.50,581.93 176.00,581.37 176.50,580.53 177.00,579.39 177.50,578.33 178.00,577.61 178.50,577.24 179.00,577.06 179.50,576.80 180.00,576.52 180.50,576.38 181.00,576.55 181.50,576.63 182.00,576.56 182.50,576.58 183.00,576.91 183.50,577.94 184.00,579.31 184.50,580.34 185.00,581.14 185.50,582.15 186.00,583.33 186.50,584.43 187.00,585.41 187.50,586.49 188.00,587.61 188.50,588.77 189.00,589.74 189.50,590.49 190.00,590.90 190.50,591.38 191.00,591.91 191.50,592.45 192.00,592.81 192.50,593.07 193.00,593.34 193.50,593.63 194.00,593.91 194.50,594.11 195.00,594.26 195.50,594.39 196.00,594.48 196.50,594.60 197.00,594.70 197.50,594.78 198.00,594.82 198.50,594.87 199.00,594.94 199.50,594.98 200.00,595.00 200.00,595.00" fill="none" stroke="#c8102e" stroke-width="1.45" stroke-linejoin="round"/>
<text x="225.30" y="591.50" font-size="7.4" text-anchor="end" font-weight="normal" fill="#222" >653</text>
<line x1="102.80" y1="615.45" x2="227.60" y2="615.45" stroke="#1a5389" stroke-width="1.5" />
<line x1="102.80" y1="615.45" x2="164.00" y2="615.45" stroke="#333" stroke-width="1.5" />
<polyline points="103.50,615.45 103.50,607.05 104.40,615.14 104.50,615.14 105.00,615.16 105.50,615.21 106.00,615.17 106.50,615.17 107.00,615.19 107.50,615.17 108.00,615.01 108.50,614.94 109.00,615.06 109.50,615.20 110.00,615.29 110.50,615.30 111.00,615.28 111.50,615.17 112.00,615.08 112.50,615.11 113.00,615.20 113.50,615.23 114.00,615.10 114.50,615.07 115.00,614.98 115.50,615.04 116.00,614.95 116.50,615.00 117.00,614.76 117.50,614.55 118.00,614.16 118.50,614.17 119.00,614.30 119.50,614.43 120.00,614.16 120.50,614.01 121.00,614.22 121.50,614.11 122.00,613.82 122.50,613.50 123.00,613.63 123.50,613.55 124.00,613.50 124.50,613.34 125.00,613.28 125.50,612.88 126.00,612.70 126.50,612.60 127.00,612.40 127.50,612.00 128.00,611.76 128.50,611.74 129.00,611.36 129.50,611.10 130.00,610.76 130.50,610.15 131.00,609.50 131.50,609.49 132.00,609.87 132.50,609.59 133.00,609.20 133.50,608.98 134.00,608.81 134.50,608.30 135.00,607.33 135.50,606.93 136.00,606.03 136.50,605.76 137.00,605.13 137.50,604.89 138.00,604.17 138.50,603.64 139.00,603.67 139.50,604.19 140.00,604.23 140.50,603.88 141.00,603.16 141.50,602.35 142.00,601.37 142.50,601.11 143.00,601.38 143.50,601.05 144.00,600.46 144.50,600.34 145.00,600.21 145.50,600.30 146.00,599.85 146.50,599.96 147.00,599.34 147.50,598.96 148.00,598.82 148.50,599.29 149.00,599.44 149.50,599.06 150.00,598.95 150.50,599.64 151.00,600.73 151.50,601.23 152.00,602.28 152.50,603.12 153.00,604.26 153.50,604.21 154.00,604.97 154.50,605.63 155.00,606.93 155.50,607.60 156.00,608.07 156.50,608.21 157.00,609.23 157.50,610.40 158.00,610.60 158.50,610.62 159.00,611.38 159.50,612.53 160.00,613.48 160.50,613.81 161.00,613.99 161.50,614.14 162.00,614.42 162.50,614.58 163.00,614.74 163.50,614.92 164.00,614.94 164.50,615.02 165.00,615.16 165.50,615.31 166.00,615.42 166.50,615.44 167.00,615.45 167.00,615.45" fill="none" stroke="#1a5389" stroke-width="1.45" stroke-linejoin="round"/>
<text x="225.30" y="611.95" font-size="7.4" text-anchor="end" font-weight="normal" fill="#222" >95</text>
<rect x="102.80" y="490.70" width="124.80" height="124.75" fill="none" stroke="#111" stroke-width="1.2"/>
<line x1="102.80" y1="615.45" x2="102.80" y2="618.85" stroke="#222" stroke-width="1.05" />
<line x1="115.56" y1="615.45" x2="115.56" y2="618.05" stroke="#222" stroke-width="1.05" />
<line x1="123.03" y1="615.45" x2="123.03" y2="618.05" stroke="#222" stroke-width="1.05" />
<line x1="128.33" y1="615.45" x2="128.33" y2="618.05" stroke="#222" stroke-width="1.05" />
<line x1="132.44" y1="615.45" x2="132.44" y2="618.05" stroke="#222" stroke-width="1.05" />
<line x1="135.79" y1="615.45" x2="135.79" y2="618.05" stroke="#222" stroke-width="1.05" />
<line x1="138.63" y1="615.45" x2="138.63" y2="618.05" stroke="#222" stroke-width="1.05" />
<line x1="141.09" y1="615.45" x2="141.09" y2="618.05" stroke="#222" stroke-width="1.05" />
<line x1="143.26" y1="615.45" x2="143.26" y2="618.05" stroke="#222" stroke-width="1.05" />
<line x1="145.20" y1="615.45" x2="145.20" y2="618.85" stroke="#222" stroke-width="1.05" />
<line x1="157.96" y1="615.45" x2="157.96" y2="618.05" stroke="#222" stroke-width="1.05" />
<line x1="165.43" y1="615.45" x2="165.43" y2="618.05" stroke="#222" stroke-width="1.05" />
<line x1="170.73" y1="615.45" x2="170.73" y2="618.05" stroke="#222" stroke-width="1.05" />
<line x1="174.84" y1="615.45" x2="174.84" y2="618.05" stroke="#222" stroke-width="1.05" />
<line x1="178.19" y1="615.45" x2="178.19" y2="618.05" stroke="#222" stroke-width="1.05" />
<line x1="181.03" y1="615.45" x2="181.03" y2="618.05" stroke="#222" stroke-width="1.05" />
<line x1="183.49" y1="615.45" x2="183.49" y2="618.05" stroke="#222" stroke-width="1.05" />
<line x1="185.66" y1="615.45" x2="185.66" y2="618.05" stroke="#222" stroke-width="1.05" />
<line x1="187.60" y1="615.45" x2="187.60" y2="618.85" stroke="#222" stroke-width="1.05" />
<line x1="200.36" y1="615.45" x2="200.36" y2="618.05" stroke="#222" stroke-width="1.05" />
<line x1="207.83" y1="615.45" x2="207.83" y2="618.05" stroke="#222" stroke-width="1.05" />
<line x1="213.13" y1="615.45" x2="213.13" y2="618.05" stroke="#222" stroke-width="1.05" />
<line x1="217.24" y1="615.45" x2="217.24" y2="618.05" stroke="#222" stroke-width="1.05" />
<line x1="220.59" y1="615.45" x2="220.59" y2="618.05" stroke="#222" stroke-width="1.05" />
<line x1="223.43" y1="615.45" x2="223.43" y2="618.05" stroke="#222" stroke-width="1.05" />
<line x1="225.89" y1="615.45" x2="225.89" y2="618.05" stroke="#222" stroke-width="1.05" />
<text x="102.80" y="627.6" font-size="6.8" text-anchor="middle" fill="#222">10<tspan font-size="5.3" dy="-3.0">1</tspan></text>
<text x="145.20" y="627.6" font-size="6.8" text-anchor="middle" fill="#222">10<tspan font-size="5.3" dy="-3.0">2</tspan></text>
<text x="187.60" y="627.6" font-size="6.8" text-anchor="middle" fill="#222">10<tspan font-size="5.3" dy="-3.0">3</tspan></text>
<line x1="232.10" y1="513.00" x2="356.90" y2="513.00" stroke="#3cb54a" stroke-width="1.5" />
<line x1="272.00" y1="513.00" x2="311.00" y2="513.00" stroke="#333" stroke-width="1.5" />
<polyline points="268.00,513.00 268.00,513.00 268.50,512.97 269.00,512.94 269.50,512.90 270.00,512.86 270.50,512.76 271.00,512.67 271.50,512.57 272.00,512.52 272.50,512.45 273.00,512.30 273.50,512.13 274.00,511.98 274.50,511.87 275.00,511.71 275.50,511.51 276.00,511.36 276.50,511.12 277.00,510.91 277.50,510.74 278.00,510.52 278.50,510.24 279.00,509.99 279.50,509.78 280.00,509.44 280.50,508.92 281.00,508.60 281.50,508.23 282.00,507.89 282.50,507.25 283.00,506.69 283.50,506.01 284.00,505.28 284.50,504.59 285.00,504.03 285.50,503.26 286.00,502.29 286.50,501.25 287.00,500.35 287.50,499.62 288.00,499.02 288.50,498.63 289.00,498.27 289.50,497.98 290.00,497.57 290.50,497.34 291.00,497.20 291.50,497.14 292.00,497.04 292.50,496.84 293.00,496.40 293.50,496.16 294.00,495.93 294.50,495.53 295.00,494.93 295.50,494.89 296.00,495.00 296.50,495.11 297.00,495.00 297.50,495.20 298.00,495.59 298.50,496.12 299.00,496.79 299.50,497.53 300.00,498.19 300.50,498.73 301.00,499.19 301.50,499.86 302.00,500.61 302.50,501.35 303.00,502.27 303.50,503.34 304.00,504.31 304.50,505.09 305.00,506.02 305.50,506.83 306.00,507.58 306.50,508.38 307.00,509.06 307.50,509.73 308.00,510.39 308.50,511.11 309.00,511.58 309.50,511.94 310.00,512.19 310.50,512.41 311.00,512.59 311.50,512.73 312.00,512.80 312.50,512.86 313.00,512.93 313.50,512.99 314.00,513.00 314.00,513.00" fill="#9ad8a3" stroke="#3cb54a" stroke-width="1.45" stroke-linejoin="round"/>
<text x="354.60" y="509.50" font-size="7.4" text-anchor="end" font-weight="normal" fill="#222" >285</text>
<line x1="232.10" y1="533.00" x2="356.90" y2="533.00" stroke="#bb6c28" stroke-width="1.5" />
<line x1="232.10" y1="533.00" x2="300.50" y2="533.00" stroke="#333" stroke-width="1.5" />
<polyline points="232.80,533.00 232.80,526.50 233.70,532.71 233.50,532.71 234.00,532.72 234.50,532.66 235.00,532.75 235.50,532.89 236.00,532.95 236.50,532.89 237.00,532.82 237.50,532.81 238.00,532.71 238.50,532.67 239.00,532.58 239.50,532.55 240.00,532.52 240.50,532.55 241.00,532.55 241.50,532.56 242.00,532.61 242.50,532.73 243.00,532.81 243.50,532.74 244.00,532.75 244.50,532.71 245.00,532.71 245.50,532.52 246.00,532.46 246.50,532.44 247.00,532.47 247.50,532.58 248.00,532.53 248.50,532.41 249.00,532.34 249.50,532.31 250.00,532.25 250.50,532.07 251.00,532.18 251.50,532.10 252.00,531.92 252.50,531.70 253.00,531.76 253.50,531.67 254.00,531.36 254.50,531.07 255.00,530.93 255.50,530.98 256.00,530.93 256.50,530.83 257.00,530.56 257.50,530.02 258.00,529.68 258.50,529.67 259.00,529.79 259.50,529.74 260.00,529.50 260.50,529.25 261.00,528.94 261.50,528.95 262.00,529.05 262.50,528.80 263.00,528.61 263.50,527.98 264.00,527.51 264.50,527.27 265.00,527.71 265.50,527.28 266.00,526.49 266.50,525.88 267.00,526.04 267.50,526.02 268.00,525.93 268.50,525.28 269.00,524.74 269.50,524.73 270.00,525.10 270.50,525.35 271.00,524.60 271.50,523.56 272.00,521.99 272.50,521.07 273.00,520.99 273.50,521.15 274.00,520.88 274.50,519.89 275.00,519.74 275.50,519.50 276.00,519.07 276.50,518.12 277.00,517.87 277.50,517.83 278.00,518.06 278.50,517.86 279.00,517.74 279.50,517.55 280.00,517.14 280.50,516.73 281.00,516.46 281.50,516.60 282.00,517.09 282.50,518.51 283.00,519.45 283.50,519.67 284.00,520.18 284.50,521.39 285.00,522.47 285.50,522.87 286.00,523.15 286.50,523.58 287.00,523.76 287.50,524.38 288.00,524.78 288.50,525.37 289.00,525.80 289.50,526.02 290.00,526.21 290.50,526.41 291.00,527.09 291.50,527.43 292.00,527.73 292.50,528.07 293.00,528.89 293.50,529.26 294.00,529.28 294.50,529.29 295.00,529.71 295.50,530.09 296.00,530.39 296.50,530.86 297.00,531.23 297.50,531.49 298.00,531.74 298.50,532.12 299.00,532.27 299.50,532.36 300.00,532.57 300.50,532.86 301.00,533.00 301.00,533.00" fill="#dcb48d" stroke="#bb6c28" stroke-width="1.45" stroke-linejoin="round"/>
<text x="354.60" y="529.50" font-size="7.4" text-anchor="end" font-weight="normal" fill="#222" >120</text>
<line x1="232.10" y1="553.80" x2="356.90" y2="553.80" stroke="#c8102e" stroke-width="1.5" />
<line x1="276.50" y1="553.80" x2="318.00" y2="553.80" stroke="#333" stroke-width="1.5" />
<polyline points="273.00,553.80 273.00,553.80 273.50,553.80 274.00,553.75 274.50,553.70 275.00,553.66 275.50,553.57 276.00,553.41 276.50,553.30 277.00,553.22 277.50,553.11 278.00,553.01 278.50,552.87 279.00,552.64 279.50,552.48 280.00,552.25 280.50,552.08 281.00,551.86 281.50,551.46 282.00,550.93 282.50,550.46 283.00,550.18 283.50,549.65 284.00,549.16 284.50,548.53 285.00,547.83 285.50,546.91 286.00,545.99 286.50,545.09 287.00,544.45 287.50,543.63 288.00,542.91 288.50,541.97 289.00,541.41 289.50,540.84 290.00,540.15 290.50,539.33 291.00,538.76 291.50,538.52 292.00,538.14 292.50,537.60 293.00,536.98 293.50,536.74 294.00,536.71 294.50,536.56 295.00,536.45 295.50,536.20 296.00,536.06 296.50,535.89 297.00,536.36 297.50,536.74 298.00,536.92 298.50,536.75 299.00,536.83 299.50,536.89 300.00,537.00 300.50,537.23 301.00,537.95 301.50,538.29 302.00,538.75 302.50,539.22 303.00,540.26 303.50,541.09 304.00,541.80 304.50,542.37 305.00,542.99 305.50,543.77 306.00,544.32 306.50,545.22 307.00,546.03 307.50,546.74 308.00,547.20 308.50,547.87 309.00,548.69 309.50,549.14 310.00,549.62 310.50,549.95 311.00,550.36 311.50,550.57 312.00,550.85 312.50,551.21 313.00,551.63 313.50,551.97 314.00,552.22 314.50,552.37 315.00,552.53 315.50,552.65 316.00,552.88 316.50,553.02 317.00,553.16 317.50,553.25 318.00,553.36 318.50,553.42 319.00,553.50 319.50,553.61 320.00,553.68 320.50,553.72 321.00,553.75 321.50,553.78 322.00,553.80 322.00,553.80" fill="#e2879a" stroke="#c8102e" stroke-width="1.45" stroke-linejoin="round"/>
<text x="354.60" y="550.30" font-size="7.4" text-anchor="end" font-weight="normal" fill="#222" >351</text>
<line x1="232.10" y1="574.50" x2="356.90" y2="574.50" stroke="#1a5389" stroke-width="1.5" />
<line x1="232.10" y1="574.50" x2="301.00" y2="574.50" stroke="#333" stroke-width="1.5" />
<polyline points="232.80,574.50 232.80,571.80 233.70,574.10 233.50,574.10 234.00,574.17 234.50,574.13 235.00,574.03 235.50,573.92 236.00,573.84 236.50,573.88 237.00,574.01 237.50,574.02 238.00,573.98 238.50,574.03 239.00,574.02 239.50,573.93 240.00,574.00 240.50,574.14 241.00,574.18 241.50,574.08 242.00,574.08 242.50,573.97 243.00,573.97 243.50,574.04 244.00,574.11 244.50,574.16 245.00,574.20 245.50,574.13 246.00,574.00 246.50,574.02 247.00,573.96 247.50,573.75 248.00,573.67 248.50,573.72 249.00,573.78 249.50,573.76 250.00,573.75 250.50,573.46 251.00,573.32 251.50,573.34 252.00,573.55 252.50,573.53 253.00,573.56 253.50,573.63 254.00,573.38 254.50,573.22 255.00,573.22 255.50,573.16 256.00,572.66 256.50,572.58 257.00,572.52 257.50,572.55 258.00,572.16 258.50,572.06 259.00,571.94 259.50,571.93 260.00,571.67 260.50,571.54 261.00,571.16 261.50,570.92 262.00,570.50 262.50,570.66 263.00,570.81 263.50,571.11 264.00,570.76 264.50,569.94 265.00,569.01 265.50,568.61 266.00,568.66 266.50,569.08 267.00,568.90 267.50,568.37 268.00,568.28 268.50,567.85 269.00,567.01 269.50,565.51 270.00,565.63 270.50,565.86 271.00,566.03 271.50,565.77 272.00,565.78 272.50,565.66 273.00,564.74 273.50,563.83 274.00,562.75 274.50,562.61 275.00,563.08 275.50,563.20 276.00,562.46 276.50,561.48 277.00,560.86 277.50,560.78 278.00,560.58 278.50,560.74 279.00,560.10 279.50,559.38 280.00,558.42 280.50,558.09 281.00,558.70 281.50,559.11 282.00,559.04 282.50,558.86 283.00,559.12 283.50,558.19 284.00,557.21 284.50,557.65 285.00,559.54 285.50,559.75 286.00,560.89 286.50,561.85 287.00,562.47 287.50,562.21 288.00,562.70 288.50,563.77 289.00,564.41 289.50,565.09 290.00,565.40 290.50,565.97 291.00,566.54 291.50,566.81 292.00,567.37 292.50,568.17 293.00,569.03 293.50,569.49 294.00,570.16 294.50,571.00 295.00,571.61 295.50,571.63 296.00,571.72 296.50,572.02 297.00,572.03 297.50,572.05 298.00,572.49 298.50,573.27 299.00,573.51 299.50,573.72 300.00,573.85 300.50,574.05 301.00,574.14 301.50,574.37 302.00,574.50 302.00,574.50" fill="#86a6c4" stroke="#1a5389" stroke-width="1.45" stroke-linejoin="round"/>
<text x="354.60" y="571.00" font-size="7.4" text-anchor="end" font-weight="normal" fill="#222" >137</text>
<line x1="232.10" y1="595.00" x2="356.90" y2="595.00" stroke="#c8102e" stroke-width="1.5" />
<line x1="295.50" y1="595.00" x2="327.00" y2="595.00" stroke="#333" stroke-width="1.5" />
<polyline points="293.00,595.00 293.00,595.00 293.50,594.98 294.00,594.93 294.50,594.85 295.00,594.74 295.50,594.63 296.00,594.50 296.50,594.35 297.00,594.14 297.50,593.89 298.00,593.59 298.50,593.24 299.00,592.85 299.50,592.40 300.00,591.75 300.50,590.87 301.00,589.84 301.50,588.73 302.00,587.63 302.50,586.59 303.00,585.49 303.50,584.36 304.00,583.24 304.50,582.20 305.00,581.21 305.50,580.20 306.00,579.26 306.50,578.47 307.00,577.91 307.50,577.45 308.00,577.02 308.50,576.67 309.00,576.42 309.50,576.30 310.00,576.37 310.50,576.61 311.00,576.98 311.50,577.43 312.00,577.91 312.50,578.44 313.00,579.13 313.50,579.94 314.00,580.81 314.50,581.68 315.00,582.50 315.50,583.28 316.00,584.07 316.50,584.86 317.00,585.64 317.50,586.41 318.00,587.15 318.50,587.90 319.00,588.66 319.50,589.40 320.00,590.08 320.50,590.69 321.00,591.19 321.50,591.64 322.00,592.06 322.50,592.45 323.00,592.80 323.50,593.12 324.00,593.40 324.50,593.65 325.00,593.88 325.50,594.10 326.00,594.29 326.50,594.45 327.00,594.58 327.50,594.68 328.00,594.77 328.50,594.86 329.00,594.93 329.50,594.98 330.00,595.00 330.00,595.00" fill="none" stroke="#c8102e" stroke-width="1.45" stroke-linejoin="round"/>
<text x="354.60" y="591.50" font-size="7.4" text-anchor="end" font-weight="normal" fill="#222" >680</text>
<line x1="232.10" y1="615.45" x2="356.90" y2="615.45" stroke="#1a5389" stroke-width="1.5" />
<line x1="267.00" y1="615.45" x2="305.50" y2="615.45" stroke="#333" stroke-width="1.5" />
<polyline points="263.00,615.45 263.00,615.45 263.50,615.44 264.00,615.41 264.50,615.33 265.00,615.28 265.50,615.23 266.00,615.14 266.50,615.01 267.00,614.95 267.50,614.87 268.00,614.75 268.50,614.53 269.00,614.29 269.50,614.02 270.00,613.80 270.50,613.67 271.00,613.53 271.50,613.17 272.00,612.85 272.50,612.61 273.00,612.47 273.50,612.16 274.00,611.84 274.50,611.32 275.00,610.80 275.50,610.40 276.00,610.00 276.50,609.79 277.00,609.40 277.50,608.92 278.00,608.32 278.50,607.96 279.00,607.62 279.50,607.02 280.00,606.54 280.50,606.19 281.00,605.86 281.50,605.24 282.00,604.51 282.50,603.65 283.00,602.84 283.50,602.21 284.00,601.42 284.50,600.90 285.00,600.48 285.50,600.01 286.00,598.97 286.50,598.05 287.00,597.70 287.50,597.63 288.00,597.92 288.50,597.98 289.00,598.30 289.50,598.66 290.00,598.71 290.50,598.53 291.00,598.72 291.50,599.29 292.00,600.13 292.50,601.01 293.00,602.39 293.50,603.01 294.00,603.34 294.50,603.86 295.00,604.93 295.50,606.02 296.00,606.74 296.50,607.37 297.00,607.93 297.50,608.68 298.00,609.54 298.50,610.45 299.00,611.03 299.50,611.54 300.00,611.97 300.50,612.39 301.00,612.82 301.50,613.26 302.00,613.63 302.50,613.84 303.00,614.17 303.50,614.43 304.00,614.64 304.50,614.74 305.00,614.86 305.50,614.99 306.00,615.19 306.50,615.30 307.00,615.39 307.50,615.43 308.00,615.45 308.00,615.45" fill="none" stroke="#1a5389" stroke-width="1.45" stroke-linejoin="round"/>
<text x="354.60" y="611.95" font-size="7.4" text-anchor="end" font-weight="normal" fill="#222" >198</text>
<rect x="232.10" y="490.70" width="124.80" height="124.75" fill="none" stroke="#111" stroke-width="1.2"/>
<line x1="232.10" y1="615.45" x2="232.10" y2="618.85" stroke="#222" stroke-width="1.05" />
<line x1="244.86" y1="615.45" x2="244.86" y2="618.05" stroke="#222" stroke-width="1.05" />
<line x1="252.33" y1="615.45" x2="252.33" y2="618.05" stroke="#222" stroke-width="1.05" />
<line x1="257.63" y1="615.45" x2="257.63" y2="618.05" stroke="#222" stroke-width="1.05" />
<line x1="261.74" y1="615.45" x2="261.74" y2="618.05" stroke="#222" stroke-width="1.05" />
<line x1="265.09" y1="615.45" x2="265.09" y2="618.05" stroke="#222" stroke-width="1.05" />
<line x1="267.93" y1="615.45" x2="267.93" y2="618.05" stroke="#222" stroke-width="1.05" />
<line x1="270.39" y1="615.45" x2="270.39" y2="618.05" stroke="#222" stroke-width="1.05" />
<line x1="272.56" y1="615.45" x2="272.56" y2="618.05" stroke="#222" stroke-width="1.05" />
<line x1="274.50" y1="615.45" x2="274.50" y2="618.85" stroke="#222" stroke-width="1.05" />
<line x1="287.26" y1="615.45" x2="287.26" y2="618.05" stroke="#222" stroke-width="1.05" />
<line x1="294.73" y1="615.45" x2="294.73" y2="618.05" stroke="#222" stroke-width="1.05" />
<line x1="300.03" y1="615.45" x2="300.03" y2="618.05" stroke="#222" stroke-width="1.05" />
<line x1="304.14" y1="615.45" x2="304.14" y2="618.05" stroke="#222" stroke-width="1.05" />
<line x1="307.49" y1="615.45" x2="307.49" y2="618.05" stroke="#222" stroke-width="1.05" />
<line x1="310.33" y1="615.45" x2="310.33" y2="618.05" stroke="#222" stroke-width="1.05" />
<line x1="312.79" y1="615.45" x2="312.79" y2="618.05" stroke="#222" stroke-width="1.05" />
<line x1="314.96" y1="615.45" x2="314.96" y2="618.05" stroke="#222" stroke-width="1.05" />
<line x1="316.90" y1="615.45" x2="316.90" y2="618.85" stroke="#222" stroke-width="1.05" />
<line x1="329.66" y1="615.45" x2="329.66" y2="618.05" stroke="#222" stroke-width="1.05" />
<line x1="337.13" y1="615.45" x2="337.13" y2="618.05" stroke="#222" stroke-width="1.05" />
<line x1="342.43" y1="615.45" x2="342.43" y2="618.05" stroke="#222" stroke-width="1.05" />
<line x1="346.54" y1="615.45" x2="346.54" y2="618.05" stroke="#222" stroke-width="1.05" />
<line x1="349.89" y1="615.45" x2="349.89" y2="618.05" stroke="#222" stroke-width="1.05" />
<line x1="352.73" y1="615.45" x2="352.73" y2="618.05" stroke="#222" stroke-width="1.05" />
<line x1="355.19" y1="615.45" x2="355.19" y2="618.05" stroke="#222" stroke-width="1.05" />
<text x="232.10" y="627.6" font-size="6.8" text-anchor="middle" fill="#222">10<tspan font-size="5.3" dy="-3.0">1</tspan></text>
<text x="274.50" y="627.6" font-size="6.8" text-anchor="middle" fill="#222">10<tspan font-size="5.3" dy="-3.0">2</tspan></text>
<text x="316.90" y="627.6" font-size="6.8" text-anchor="middle" fill="#222">10<tspan font-size="5.3" dy="-3.0">3</tspan></text>
<line x1="361.80" y1="513.00" x2="486.60" y2="513.00" stroke="#3cb54a" stroke-width="1.5" />
<line x1="391.50" y1="513.00" x2="438.00" y2="513.00" stroke="#333" stroke-width="1.5" />
<polyline points="388.00,513.00 388.00,513.00 388.50,512.98 389.00,512.94 389.50,512.90 390.00,512.82 390.50,512.75 391.00,512.67 391.50,512.57 392.00,512.43 392.50,512.27 393.00,512.08 393.50,511.75 394.00,511.44 394.50,511.30 395.00,511.18 395.50,510.90 396.00,510.42 396.50,510.07 397.00,509.61 397.50,509.18 398.00,508.95 398.50,508.87 399.00,508.76 399.50,508.12 400.00,507.51 400.50,506.93 401.00,506.84 401.50,506.45 402.00,505.84 402.50,505.14 403.00,504.65 403.50,504.28 404.00,503.45 404.50,502.82 405.00,502.53 405.50,502.41 406.00,501.81 406.50,501.11 407.00,500.62 407.50,500.36 408.00,500.04 408.50,499.52 409.00,499.21 409.50,498.66 410.00,498.01 410.50,497.94 411.00,498.45 411.50,498.38 412.00,497.61 412.50,497.03 413.00,497.27 413.50,497.20 414.00,496.52 414.50,495.47 415.00,495.81 415.50,496.58 416.00,497.12 416.50,497.03 417.00,497.50 417.50,497.80 418.00,497.93 418.50,497.86 419.00,497.79 419.50,497.88 420.00,497.89 420.50,498.55 421.00,498.91 421.50,499.42 422.00,500.17 422.50,501.21 423.00,501.97 423.50,502.52 424.00,503.04 424.50,503.43 425.00,503.93 425.50,504.59 426.00,504.99 426.50,505.34 427.00,505.95 427.50,506.34 428.00,506.81 428.50,507.24 429.00,507.69 429.50,507.92 430.00,508.57 430.50,509.18 431.00,509.59 431.50,509.80 432.00,510.10 432.50,510.41 433.00,510.76 433.50,511.14 434.00,511.42 434.50,511.61 435.00,511.91 435.50,512.04 436.00,512.16 436.50,512.18 437.00,512.39 437.50,512.48 438.00,512.60 438.50,512.57 439.00,512.56 439.50,512.60 440.00,512.71 440.50,512.80 441.00,512.88 441.50,512.95 442.00,513.00 442.00,513.00" fill="#9ad8a3" stroke="#3cb54a" stroke-width="1.45" stroke-linejoin="round"/>
<text x="484.30" y="509.50" font-size="7.4" text-anchor="end" font-weight="normal" fill="#222" >179</text>
<line x1="361.80" y1="533.00" x2="486.60" y2="533.00" stroke="#bb6c28" stroke-width="1.5" />
<line x1="361.80" y1="533.00" x2="420.00" y2="533.00" stroke="#333" stroke-width="1.5" />
<polyline points="362.50,533.00 362.50,524.00 363.40,532.71 364.00,532.71 364.50,532.67 365.00,532.70 365.50,532.74 366.00,532.67 366.50,532.49 367.00,532.51 367.50,532.54 368.00,532.45 368.50,532.38 369.00,532.46 369.50,532.54 370.00,532.52 370.50,532.49 371.00,532.53 371.50,532.54 372.00,532.47 372.50,532.39 373.00,532.42 373.50,532.50 374.00,532.44 374.50,532.30 375.00,532.15 375.50,531.94 376.00,532.00 376.50,532.16 377.00,532.41 377.50,532.29 378.00,532.11 378.50,531.92 379.00,532.00 379.50,532.09 380.00,532.09 380.50,531.83 381.00,531.27 381.50,531.02 382.00,530.87 382.50,530.86 383.00,530.82 383.50,530.89 384.00,530.51 384.50,530.06 385.00,530.04 385.50,529.75 386.00,529.56 386.50,529.32 387.00,529.24 387.50,529.14 388.00,529.51 388.50,529.85 389.00,529.56 389.50,528.82 390.00,528.56 390.50,528.56 391.00,527.96 391.50,527.51 392.00,527.16 392.50,526.83 393.00,525.62 393.50,525.44 394.00,525.00 394.50,524.83 395.00,523.65 395.50,523.25 396.00,522.45 396.50,522.53 397.00,521.93 397.50,522.10 398.00,521.65 398.50,521.09 399.00,520.38 399.50,519.85 400.00,519.61 400.50,519.31 401.00,519.44 401.50,518.62 402.00,518.51 402.50,518.57 403.00,518.75 403.50,517.75 404.00,517.00 404.50,516.33 405.00,516.27 405.50,516.74 406.00,517.48 406.50,517.79 407.00,518.91 407.50,519.29 408.00,519.81 408.50,519.95 409.00,520.86 409.50,521.19 410.00,522.13 410.50,522.94 411.00,522.83 411.50,522.47 412.00,522.68 412.50,523.84 413.00,524.98 413.50,525.63 414.00,525.69 414.50,526.33 415.00,527.62 415.50,529.08 416.00,529.44 416.50,529.91 417.00,530.28 417.50,530.86 418.00,530.79 418.50,531.29 419.00,531.91 419.50,532.44 420.00,532.66 420.50,532.81 421.00,533.00 421.00,533.00" fill="#dcb48d" stroke="#bb6c28" stroke-width="1.45" stroke-linejoin="round"/>
<text x="484.30" y="529.50" font-size="7.4" text-anchor="end" font-weight="normal" fill="#222" >87</text>
<line x1="361.80" y1="595.00" x2="486.60" y2="595.00" stroke="#c8102e" stroke-width="1.5" />
<line x1="409.00" y1="595.00" x2="447.00" y2="595.00" stroke="#333" stroke-width="1.5" />
<polyline points="405.00,595.00 405.00,595.00 405.50,595.00 406.00,594.98 406.50,594.94 407.00,594.86 407.50,594.80 408.00,594.72 408.50,594.66 409.00,594.56 409.50,594.44 410.00,594.26 410.50,594.06 411.00,593.85 411.50,593.60 412.00,593.34 412.50,593.08 413.00,592.67 413.50,592.28 414.00,591.86 414.50,591.45 415.00,590.98 415.50,590.51 416.00,590.10 416.50,589.53 417.00,588.89 417.50,588.24 418.00,587.56 418.50,586.97 419.00,586.27 419.50,585.68 420.00,584.97 420.50,584.32 421.00,583.38 421.50,582.62 422.00,582.05 422.50,581.58 423.00,580.68 423.50,579.85 424.00,579.18 424.50,578.63 425.00,578.08 425.50,577.87 426.00,577.64 426.50,577.16 427.00,576.31 427.50,576.02 428.00,575.97 428.50,576.23 429.00,576.27 429.50,576.44 430.00,576.56 430.50,576.92 431.00,577.63 431.50,578.44 432.00,579.29 432.50,580.12 433.00,580.84 433.50,581.57 434.00,582.37 434.50,583.31 435.00,584.07 435.50,584.94 436.00,585.78 436.50,586.51 437.00,587.08 437.50,587.63 438.00,588.17 438.50,588.67 439.00,589.26 439.50,589.81 440.00,590.34 440.50,590.94 441.00,591.61 441.50,592.15 442.00,592.63 442.50,593.00 443.00,593.28 443.50,593.47 444.00,593.64 444.50,593.83 445.00,594.04 445.50,594.24 446.00,594.40 446.50,594.51 447.00,594.59 447.50,594.65 448.00,594.74 448.50,594.83 449.00,594.93 449.50,594.98 450.00,595.00 450.00,595.00" fill="none" stroke="#c8102e" stroke-width="1.45" stroke-linejoin="round"/>
<text x="484.30" y="591.50" font-size="7.4" text-anchor="end" font-weight="normal" fill="#222" >348</text>
<line x1="361.80" y1="615.45" x2="486.60" y2="615.45" stroke="#1a5389" stroke-width="1.5" />
<line x1="361.80" y1="615.45" x2="423.50" y2="615.45" stroke="#333" stroke-width="1.5" />
<polyline points="362.50,615.45 362.50,607.15 363.40,615.01 364.00,615.01 364.50,614.97 365.00,614.98 365.50,614.89 366.00,614.89 366.50,614.91 367.00,614.98 367.50,614.98 368.00,615.07 368.50,615.14 369.00,615.24 369.50,615.22 370.00,615.19 370.50,615.20 371.00,615.28 371.50,615.31 372.00,615.13 372.50,615.02 373.00,614.94 373.50,615.07 374.00,615.12 374.50,615.01 375.00,614.84 375.50,614.72 376.00,614.60 376.50,614.30 377.00,614.19 377.50,614.29 378.00,614.41 378.50,614.45 379.00,614.25 379.50,614.25 380.00,614.27 380.50,614.57 381.00,614.57 381.50,614.41 382.00,613.98 382.50,613.66 383.00,613.59 383.50,613.59 384.00,613.54 384.50,613.34 385.00,612.85 385.50,612.24 386.00,611.87 386.50,612.01 387.00,612.30 387.50,612.18 388.00,611.87 388.50,611.89 389.00,611.61 389.50,611.16 390.00,610.74 390.50,611.01 391.00,611.02 391.50,610.54 392.00,610.18 392.50,609.83 393.00,609.49 393.50,608.34 394.00,607.54 394.50,607.24 395.00,607.42 395.50,607.00 396.00,606.24 396.50,605.90 397.00,605.80 397.50,605.72 398.00,605.82 398.50,606.13 399.00,605.45 399.50,603.95 400.00,602.99 400.50,603.03 401.00,603.45 401.50,603.13 402.00,602.34 402.50,602.02 403.00,601.35 403.50,600.53 404.00,598.97 404.50,598.20 405.00,597.41 405.50,597.31 406.00,597.44 406.50,598.55 407.00,600.03 407.50,600.40 408.00,600.10 408.50,600.91 409.00,602.75 409.50,603.14 410.00,602.00 410.50,601.48 411.00,602.65 411.50,604.05 412.00,605.76 412.50,606.97 413.00,607.31 413.50,606.90 414.00,608.03 414.50,608.99 415.00,609.45 415.50,609.40 416.00,610.25 416.50,610.96 417.00,611.82 417.50,612.23 418.00,612.41 418.50,612.76 419.00,613.25 419.50,613.76 420.00,613.89 420.50,614.05 421.00,614.45 421.50,614.75 422.00,614.79 422.50,614.75 423.00,614.94 423.50,615.09 424.00,615.20 424.50,615.27 425.00,615.24 425.50,615.22 426.00,615.26 426.50,615.35 427.00,615.45 427.00,615.45" fill="none" stroke="#1a5389" stroke-width="1.45" stroke-linejoin="round"/>
<text x="484.30" y="611.95" font-size="7.4" text-anchor="end" font-weight="normal" fill="#222" >88</text>
<rect x="361.80" y="490.70" width="124.80" height="124.75" fill="none" stroke="#111" stroke-width="1.2"/>
<line x1="361.80" y1="615.45" x2="361.80" y2="618.85" stroke="#222" stroke-width="1.05" />
<line x1="374.56" y1="615.45" x2="374.56" y2="618.05" stroke="#222" stroke-width="1.05" />
<line x1="382.03" y1="615.45" x2="382.03" y2="618.05" stroke="#222" stroke-width="1.05" />
<line x1="387.33" y1="615.45" x2="387.33" y2="618.05" stroke="#222" stroke-width="1.05" />
<line x1="391.44" y1="615.45" x2="391.44" y2="618.05" stroke="#222" stroke-width="1.05" />
<line x1="394.79" y1="615.45" x2="394.79" y2="618.05" stroke="#222" stroke-width="1.05" />
<line x1="397.63" y1="615.45" x2="397.63" y2="618.05" stroke="#222" stroke-width="1.05" />
<line x1="400.09" y1="615.45" x2="400.09" y2="618.05" stroke="#222" stroke-width="1.05" />
<line x1="402.26" y1="615.45" x2="402.26" y2="618.05" stroke="#222" stroke-width="1.05" />
<line x1="404.20" y1="615.45" x2="404.20" y2="618.85" stroke="#222" stroke-width="1.05" />
<line x1="416.96" y1="615.45" x2="416.96" y2="618.05" stroke="#222" stroke-width="1.05" />
<line x1="424.43" y1="615.45" x2="424.43" y2="618.05" stroke="#222" stroke-width="1.05" />
<line x1="429.73" y1="615.45" x2="429.73" y2="618.05" stroke="#222" stroke-width="1.05" />
<line x1="433.84" y1="615.45" x2="433.84" y2="618.05" stroke="#222" stroke-width="1.05" />
<line x1="437.19" y1="615.45" x2="437.19" y2="618.05" stroke="#222" stroke-width="1.05" />
<line x1="440.03" y1="615.45" x2="440.03" y2="618.05" stroke="#222" stroke-width="1.05" />
<line x1="442.49" y1="615.45" x2="442.49" y2="618.05" stroke="#222" stroke-width="1.05" />
<line x1="444.66" y1="615.45" x2="444.66" y2="618.05" stroke="#222" stroke-width="1.05" />
<line x1="446.60" y1="615.45" x2="446.60" y2="618.85" stroke="#222" stroke-width="1.05" />
<line x1="459.36" y1="615.45" x2="459.36" y2="618.05" stroke="#222" stroke-width="1.05" />
<line x1="466.83" y1="615.45" x2="466.83" y2="618.05" stroke="#222" stroke-width="1.05" />
<line x1="472.13" y1="615.45" x2="472.13" y2="618.05" stroke="#222" stroke-width="1.05" />
<line x1="476.24" y1="615.45" x2="476.24" y2="618.05" stroke="#222" stroke-width="1.05" />
<line x1="479.59" y1="615.45" x2="479.59" y2="618.05" stroke="#222" stroke-width="1.05" />
<line x1="482.43" y1="615.45" x2="482.43" y2="618.05" stroke="#222" stroke-width="1.05" />
<line x1="484.89" y1="615.45" x2="484.89" y2="618.05" stroke="#222" stroke-width="1.05" />
<text x="361.80" y="627.6" font-size="6.8" text-anchor="middle" fill="#222">10<tspan font-size="5.3" dy="-3.0">1</tspan></text>
<text x="404.20" y="627.6" font-size="6.8" text-anchor="middle" fill="#222">10<tspan font-size="5.3" dy="-3.0">2</tspan></text>
<text x="446.60" y="627.6" font-size="6.8" text-anchor="middle" fill="#222">10<tspan font-size="5.3" dy="-3.0">3</tspan></text>
<text x="99.20" y="513.40" font-size="8.0" text-anchor="end" font-weight="normal" fill="#000"  textLength="62.94" lengthAdjust="spacingAndGlyphs">3D doxo+Mg+TSC</text>
<text x="99.20" y="533.40" font-size="8.0" text-anchor="end" font-weight="normal" fill="#000"  textLength="60.82" lengthAdjust="spacingAndGlyphs">3D CTL+Mg+TSC</text>
<text x="99.20" y="554.20" font-size="8.0" text-anchor="end" font-weight="normal" fill="#000"  textLength="28.31" lengthAdjust="spacingAndGlyphs">3D doxo</text>
<text x="99.20" y="574.90" font-size="8.0" text-anchor="end" font-weight="normal" fill="#000"  textLength="26.18" lengthAdjust="spacingAndGlyphs">3D CTL</text>
<text x="99.20" y="595.40" font-size="8.0" text-anchor="end" font-weight="normal" fill="#000"  textLength="28.31" lengthAdjust="spacingAndGlyphs">2D doxo</text>
<text x="99.20" y="615.85" font-size="8.0" text-anchor="end" font-weight="normal" fill="#000"  textLength="26.18" lengthAdjust="spacingAndGlyphs">2D CTL</text>
<text x="165.20" y="344.70" font-size="9.1" text-anchor="middle" font-weight="normal" fill="#000" >SUDHL4</text>
<text x="294.50" y="344.70" font-size="9.1" text-anchor="middle" font-weight="normal" fill="#000" >HLY1</text>
<text x="424.20" y="344.70" font-size="9.1" text-anchor="middle" font-weight="normal" fill="#000" >DOHH2</text>
<text transform="translate(28.7,413.8) rotate(-90)" font-size="8.4" text-anchor="middle" fill="#222" textLength="50.5" lengthAdjust="spacingAndGlyphs" style="stroke:none">Before confluence</text>
<text transform="translate(28.7,553.2) rotate(-90)" font-size="8.4" text-anchor="middle" fill="#222" textLength="39" lengthAdjust="spacingAndGlyphs" style="stroke:none">At confluence</text>
<text x="100.40" y="642.60" font-size="7.0" text-anchor="end" font-weight="normal" fill="#222" >Doxo</text>
<line x1="103.80" y1="640.20" x2="478.00" y2="640.20" stroke="#111" stroke-width="1.3" />
<polygon points="476.5,637 487,640.2 476.5,643.4" fill="#111"/>
<rect x="0.6" y="0.6" width="518.8" height="650.8" fill="none" stroke="#000" stroke-width="1.3"/>
</svg>
</body></html>
